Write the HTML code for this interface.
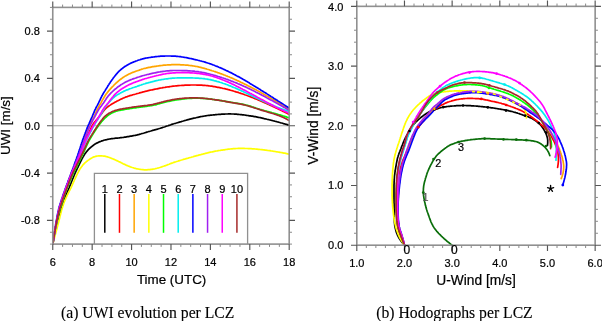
<!DOCTYPE html>
<html><head><meta charset="utf-8"><style>
html,body{margin:0;padding:0;background:#fff;}
body{width:602px;height:321px;overflow:hidden;position:relative;font-family:"Liberation Sans",sans-serif;}
svg text{font-family:"Liberation Sans",sans-serif;fill:#000;stroke:#000;stroke-width:0.22px;}
</style></head><body>
<svg width="602" height="321" viewBox="0 0 602 321" style="position:absolute;left:0;top:0;will-change:transform">
<line x1="52.76" y1="125.75" x2="289.20" y2="125.75" stroke="#a0a0a0" stroke-width="1.2"/>
<g fill="none" stroke-width="1.7" stroke-linejoin="round" stroke-linecap="round">
<path d="M52.8,244.0 L53.0,243.0 L53.2,242.0 L53.3,241.0 L53.5,240.1 L53.7,239.1 L53.9,238.1 L54.1,237.1 L54.3,236.1 L54.4,235.2 L54.6,234.2 L54.8,233.2 L55.0,232.2 L55.2,231.2 L55.4,230.2 L55.6,229.3 L55.8,228.3 L56.0,227.3 L56.2,226.3 L56.5,225.4 L56.7,224.4 L56.9,223.4 L57.2,222.4 L57.4,221.5 L57.7,220.5 L58.0,219.6 L58.2,218.6 L58.5,217.6 L58.8,216.7 L59.1,215.7 L59.4,214.8 L59.7,213.8 L60.0,212.9 L60.3,211.9 L60.6,210.9 L60.9,210.0 L61.2,209.0 L61.5,208.1 L61.8,207.1 L62.1,206.2 L62.4,205.2 L62.8,204.3 L63.1,203.3 L63.4,202.4 L63.7,201.5 L64.1,200.5 L64.4,199.6 L64.7,198.6 L65.1,197.7 L65.4,196.8 L65.8,195.8 L66.2,194.9 L66.5,194.0 L66.9,193.0 L67.3,192.1 L67.7,191.2 L68.1,190.3 L68.5,189.4 L68.9,188.4 L69.3,187.5 L69.6,186.6 L70.0,185.7 L70.4,184.7 L70.8,183.8 L71.1,182.9 L71.5,182.0 L71.9,181.0 L72.2,180.1 L72.6,179.2 L73.0,178.2 L73.4,177.3 L73.7,176.4 L74.1,175.5 L74.5,174.5 L74.9,173.6 L75.3,172.7 L75.7,171.8 L76.1,170.9 L76.6,170.0 L77.0,169.1 L77.4,168.2 L77.9,167.3 L78.3,166.4 L78.7,165.5 L79.2,164.6 L79.6,163.7 L80.0,162.8 L80.5,161.9 L80.9,161.0 L81.4,160.1 L81.8,159.2 L82.3,158.3 L82.8,157.4 L83.3,156.6 L83.8,155.7 L84.3,154.9 L84.8,154.0 L85.4,153.2 L86.0,152.4 L86.6,151.6 L87.3,150.9 L87.9,150.1 L88.6,149.4 L89.3,148.7 L90.0,148.0 L90.8,147.3 L91.5,146.7 L92.3,146.1 L93.1,145.5 L93.9,144.9 L94.7,144.3 L95.6,143.8 L96.4,143.3 L97.3,142.9 L98.2,142.4 L99.1,142.0 L100.1,141.6 L101.0,141.3 L101.9,140.9 L102.9,140.6 L103.8,140.3 L104.8,140.0 L105.7,139.8 L106.7,139.6 L107.7,139.3 L108.7,139.2 L109.7,139.0 L110.6,138.8 L111.6,138.7 L112.6,138.6 L113.6,138.5 L114.6,138.3 L115.6,138.2 L116.6,138.1 L117.6,138.1 L118.6,138.0 L119.6,137.8 L120.6,137.7 L121.6,137.6 L122.6,137.5 L123.6,137.4 L124.5,137.2 L125.5,137.1 L126.5,136.9 L127.5,136.7 L128.5,136.6 L129.5,136.4 L130.5,136.2 L131.4,136.1 L132.4,135.9 L133.4,135.7 L134.4,135.5 L135.4,135.3 L136.3,135.1 L137.3,134.9 L138.3,134.6 L139.3,134.4 L140.2,134.1 L141.2,133.8 L142.1,133.5 L143.1,133.3 L144.1,133.0 L145.0,132.7 L146.0,132.4 L146.9,132.1 L147.9,131.8 L148.8,131.5 L149.8,131.3 L150.8,131.0 L151.7,130.7 L152.7,130.4 L153.7,130.2 L154.6,129.9 L155.6,129.6 L156.5,129.4 L157.5,129.1 L158.5,128.8 L159.4,128.5 L160.4,128.2 L161.3,127.9 L162.3,127.6 L163.2,127.3 L164.2,127.0 L165.1,126.7 L166.1,126.3 L167.0,126.0 L168.0,125.7 L168.9,125.4 L169.9,125.1 L170.8,124.8 L171.8,124.4 L172.7,124.1 L173.7,123.8 L174.6,123.5 L175.6,123.3 L176.5,123.0 L177.5,122.7 L178.5,122.4 L179.4,122.1 L180.4,121.8 L181.3,121.6 L182.3,121.3 L183.3,121.0 L184.2,120.7 L185.2,120.5 L186.1,120.2 L187.1,119.9 L188.1,119.7 L189.0,119.4 L190.0,119.1 L191.0,118.9 L191.9,118.7 L192.9,118.4 L193.9,118.2 L194.9,118.0 L195.8,117.8 L196.8,117.5 L197.8,117.3 L198.8,117.1 L199.7,116.9 L200.7,116.7 L201.7,116.5 L202.7,116.3 L203.7,116.2 L204.7,116.0 L205.6,115.8 L206.6,115.7 L207.6,115.5 L208.6,115.4 L209.6,115.3 L210.6,115.2 L211.6,115.1 L212.6,115.0 L213.6,114.9 L214.6,114.8 L215.6,114.7 L216.6,114.6 L217.6,114.5 L218.6,114.4 L219.6,114.4 L220.6,114.3 L221.6,114.2 L222.6,114.2 L223.6,114.1 L224.6,114.1 L225.6,114.0 L226.6,114.0 L227.5,114.0 L228.5,113.9 L229.5,113.9 L230.5,113.9 L231.5,114.0 L232.5,114.0 L233.5,114.0 L234.5,114.1 L235.5,114.1 L236.5,114.2 L237.5,114.3 L238.5,114.4 L239.5,114.5 L240.5,114.6 L241.5,114.7 L242.5,114.8 L243.5,114.9 L244.5,115.0 L245.5,115.2 L246.5,115.3 L247.5,115.5 L248.5,115.6 L249.4,115.8 L250.4,115.9 L251.4,116.1 L252.4,116.2 L253.4,116.4 L254.4,116.6 L255.4,116.7 L256.3,116.9 L257.3,117.1 L258.3,117.3 L259.3,117.5 L260.3,117.7 L261.2,117.9 L262.2,118.1 L263.2,118.3 L264.2,118.6 L265.1,118.8 L266.1,119.0 L267.1,119.3 L268.1,119.5 L269.0,119.7 L270.0,120.0 L271.0,120.2 L271.9,120.5 L272.9,120.7 L273.9,121.0 L274.8,121.2 L275.8,121.5 L276.8,121.7 L277.7,122.0 L278.7,122.2 L279.7,122.5 L280.6,122.8 L281.6,123.0 L282.6,123.3 L283.5,123.6 L284.5,123.8 L285.4,124.1 L286.3,124.3 L287.2,124.6 L288.1,124.9 L289.0,125.1" stroke="#000000"/>
<path d="M52.8,244.0 L53.0,243.0 L53.1,242.0 L53.3,241.0 L53.4,240.1 L53.6,239.1 L53.8,238.1 L53.9,237.1 L54.1,236.1 L54.2,235.1 L54.4,234.1 L54.6,233.1 L54.7,232.2 L54.9,231.2 L55.1,230.2 L55.2,229.2 L55.4,228.2 L55.6,227.2 L55.8,226.2 L56.0,225.3 L56.1,224.3 L56.3,223.3 L56.5,222.3 L56.7,221.3 L56.9,220.4 L57.1,219.4 L57.3,218.4 L57.5,217.4 L57.7,216.4 L57.9,215.5 L58.1,214.5 L58.3,213.5 L58.5,212.5 L58.8,211.5 L59.0,210.6 L59.2,209.6 L59.5,208.6 L59.8,207.7 L60.0,206.7 L60.3,205.8 L60.6,204.8 L60.9,203.8 L61.2,202.9 L61.5,201.9 L61.8,201.0 L62.1,200.0 L62.5,199.1 L62.8,198.2 L63.1,197.2 L63.5,196.3 L63.8,195.3 L64.2,194.4 L64.5,193.5 L64.8,192.5 L65.2,191.6 L65.5,190.6 L65.9,189.7 L66.2,188.8 L66.6,187.8 L66.9,186.9 L67.3,185.9 L67.6,185.0 L68.0,184.1 L68.3,183.1 L68.7,182.2 L69.0,181.3 L69.4,180.3 L69.7,179.4 L70.1,178.5 L70.4,177.5 L70.8,176.6 L71.2,175.7 L71.6,174.8 L72.0,173.8 L72.4,172.9 L72.8,172.0 L73.2,171.1 L73.6,170.2 L74.1,169.3 L74.5,168.4 L75.0,167.5 L75.4,166.6 L75.8,165.7 L76.3,164.8 L76.7,163.9 L77.2,163.0 L77.6,162.1 L78.0,161.2 L78.4,160.3 L78.8,159.4 L79.2,158.5 L79.6,157.5 L80.0,156.6 L80.3,155.7 L80.7,154.7 L81.0,153.8 L81.3,152.9 L81.7,151.9 L82.0,151.0 L82.3,150.0 L82.6,149.1 L82.9,148.1 L83.2,147.2 L83.5,146.2 L83.9,145.3 L84.2,144.3 L84.5,143.4 L84.8,142.4 L85.2,141.5 L85.5,140.6 L85.9,139.6 L86.3,138.7 L86.6,137.8 L87.0,136.8 L87.4,135.9 L87.8,135.0 L88.2,134.1 L88.6,133.2 L89.1,132.3 L89.5,131.4 L89.9,130.5 L90.3,129.6 L90.7,128.6 L91.2,127.7 L91.6,126.9 L92.1,126.0 L92.6,125.1 L93.1,124.3 L93.6,123.4 L94.2,122.6 L94.8,121.9 L95.5,121.1 L96.1,120.3 L96.7,119.6 L97.4,118.8 L98.0,118.0 L98.7,117.3 L99.3,116.5 L100.0,115.7 L100.6,114.9 L101.2,114.2 L101.8,113.4 L102.4,112.6 L103.0,111.8 L103.6,111.0 L104.2,110.2 L104.9,109.5 L105.6,108.7 L106.3,108.0 L107.0,107.4 L107.8,106.8 L108.6,106.2 L109.4,105.6 L110.2,105.1 L111.1,104.5 L111.9,104.0 L112.8,103.5 L113.7,103.0 L114.5,102.5 L115.4,102.0 L116.3,101.6 L117.2,101.1 L118.0,100.6 L118.9,100.2 L119.8,99.7 L120.7,99.3 L121.6,98.9 L122.5,98.4 L123.5,98.0 L124.4,97.6 L125.3,97.3 L126.2,96.9 L127.2,96.6 L128.1,96.2 L129.1,95.9 L130.0,95.6 L131.0,95.3 L131.9,95.1 L132.9,94.8 L133.9,94.5 L134.8,94.3 L135.8,94.0 L136.7,93.7 L137.7,93.5 L138.7,93.2 L139.6,92.9 L140.6,92.6 L141.6,92.4 L142.5,92.1 L143.5,91.8 L144.4,91.6 L145.4,91.3 L146.4,91.1 L147.4,90.9 L148.3,90.6 L149.3,90.4 L150.3,90.2 L151.3,90.0 L152.2,89.8 L153.2,89.6 L154.2,89.4 L155.2,89.2 L156.2,89.0 L157.1,88.8 L158.1,88.6 L159.1,88.4 L160.1,88.2 L161.1,88.0 L162.0,87.9 L163.0,87.7 L164.0,87.5 L165.0,87.4 L166.0,87.2 L167.0,87.0 L168.0,86.9 L169.0,86.8 L169.9,86.6 L170.9,86.5 L171.9,86.3 L172.9,86.2 L173.9,86.1 L174.9,86.0 L175.9,85.9 L176.9,85.8 L177.9,85.7 L178.9,85.6 L179.9,85.5 L180.9,85.5 L181.9,85.4 L182.9,85.3 L183.9,85.3 L184.9,85.2 L185.9,85.2 L186.9,85.2 L187.9,85.1 L188.9,85.1 L189.9,85.1 L190.9,85.0 L191.9,85.0 L192.9,85.0 L193.9,85.0 L194.9,85.0 L195.9,85.0 L196.9,85.1 L197.9,85.1 L198.9,85.1 L199.9,85.2 L200.9,85.2 L201.9,85.2 L202.9,85.3 L203.9,85.4 L204.9,85.4 L205.9,85.5 L206.8,85.6 L207.8,85.7 L208.8,85.8 L209.8,86.0 L210.8,86.1 L211.8,86.2 L212.8,86.4 L213.8,86.6 L214.8,86.7 L215.8,86.9 L216.7,87.1 L217.7,87.3 L218.7,87.4 L219.7,87.6 L220.7,87.8 L221.6,88.0 L222.6,88.3 L223.6,88.5 L224.6,88.7 L225.5,88.9 L226.5,89.2 L227.5,89.4 L228.4,89.7 L229.4,89.9 L230.4,90.2 L231.3,90.5 L232.3,90.7 L233.3,91.0 L234.2,91.3 L235.2,91.6 L236.1,91.9 L237.1,92.2 L238.1,92.4 L239.0,92.8 L240.0,93.1 L240.9,93.4 L241.9,93.7 L242.8,94.0 L243.7,94.3 L244.7,94.7 L245.6,95.0 L246.6,95.3 L247.5,95.7 L248.5,96.0 L249.4,96.4 L250.3,96.7 L251.3,97.1 L252.2,97.5 L253.1,97.8 L254.0,98.2 L255.0,98.6 L255.9,98.9 L256.8,99.3 L257.7,99.7 L258.7,100.1 L259.6,100.5 L260.5,100.9 L261.4,101.3 L262.3,101.7 L263.3,102.1 L264.2,102.5 L265.1,102.9 L266.0,103.3 L266.9,103.7 L267.8,104.1 L268.7,104.5 L269.6,104.9 L270.6,105.4 L271.5,105.8 L272.4,106.2 L273.3,106.6 L274.2,107.0 L275.1,107.5 L276.0,107.9 L276.9,108.3 L277.8,108.8 L278.7,109.2 L279.6,109.6 L280.5,110.1 L281.4,110.5 L282.3,110.9 L283.2,111.4 L284.1,111.8 L284.9,112.3 L285.8,112.7 L286.6,113.1 L287.4,113.5 L288.2,113.9 L289.0,114.3" stroke="#ff0000"/>
<path d="M52.8,244.0 L53.0,243.0 L53.1,242.0 L53.3,241.0 L53.4,240.0 L53.5,239.1 L53.7,238.1 L53.9,237.1 L54.0,236.1 L54.2,235.1 L54.3,234.1 L54.5,233.1 L54.6,232.1 L54.8,231.2 L54.9,230.2 L55.1,229.2 L55.3,228.2 L55.4,227.2 L55.6,226.2 L55.8,225.2 L55.9,224.2 L56.1,223.3 L56.3,222.3 L56.5,221.3 L56.6,220.3 L56.8,219.3 L57.0,218.3 L57.2,217.4 L57.4,216.4 L57.6,215.4 L57.8,214.4 L58.0,213.4 L58.2,212.5 L58.4,211.5 L58.6,210.5 L58.9,209.5 L59.1,208.6 L59.4,207.6 L59.6,206.6 L59.9,205.7 L60.2,204.7 L60.5,203.8 L60.8,202.8 L61.1,201.9 L61.4,200.9 L61.7,199.9 L62.0,199.0 L62.3,198.1 L62.6,197.1 L63.0,196.2 L63.3,195.2 L63.6,194.3 L63.9,193.3 L64.3,192.4 L64.6,191.4 L64.9,190.5 L65.3,189.6 L65.6,188.6 L65.9,187.7 L66.3,186.7 L66.6,185.8 L67.0,184.8 L67.3,183.9 L67.7,183.0 L68.0,182.0 L68.4,181.1 L68.7,180.2 L69.1,179.2 L69.4,178.3 L69.8,177.4 L70.2,176.4 L70.5,175.5 L70.9,174.6 L71.2,173.6 L71.6,172.7 L72.0,171.8 L72.3,170.8 L72.7,169.9 L73.0,169.0 L73.4,168.0 L73.8,167.1 L74.1,166.2 L74.5,165.2 L74.8,164.3 L75.2,163.4 L75.5,162.4 L75.9,161.5 L76.2,160.6 L76.6,159.6 L76.9,158.7 L77.3,157.7 L77.6,156.8 L78.0,155.9 L78.3,154.9 L78.6,154.0 L78.9,153.0 L79.3,152.1 L79.6,151.1 L79.9,150.2 L80.3,149.3 L80.6,148.3 L80.9,147.4 L81.2,146.4 L81.6,145.5 L81.9,144.5 L82.2,143.6 L82.5,142.6 L82.9,141.7 L83.2,140.8 L83.5,139.8 L83.9,138.9 L84.2,137.9 L84.6,137.0 L84.9,136.1 L85.3,135.1 L85.6,134.2 L86.0,133.3 L86.4,132.3 L86.7,131.4 L87.1,130.5 L87.5,129.5 L87.9,128.6 L88.3,127.7 L88.7,126.8 L89.1,125.9 L89.5,125.0 L90.0,124.1 L90.4,123.2 L90.9,122.3 L91.4,121.4 L91.9,120.6 L92.4,119.7 L92.9,118.8 L93.3,118.0 L93.8,117.1 L94.3,116.2 L94.7,115.3 L95.1,114.4 L95.5,113.5 L95.9,112.5 L96.3,111.6 L96.7,110.7 L97.1,109.8 L97.5,108.9 L98.0,108.0 L98.4,107.2 L98.9,106.3 L99.4,105.4 L100.0,104.6 L100.5,103.7 L101.0,102.9 L101.5,102.0 L101.9,101.1 L102.4,100.2 L102.9,99.4 L103.4,98.5 L103.9,97.6 L104.4,96.8 L104.9,95.9 L105.5,95.1 L106.0,94.3 L106.6,93.5 L107.2,92.7 L107.9,91.9 L108.5,91.1 L109.1,90.4 L109.8,89.6 L110.4,88.9 L111.1,88.1 L111.8,87.4 L112.5,86.7 L113.2,86.0 L113.9,85.2 L114.6,84.5 L115.3,83.8 L116.0,83.2 L116.8,82.5 L117.5,81.8 L118.3,81.2 L119.0,80.5 L119.8,79.9 L120.6,79.3 L121.4,78.7 L122.2,78.1 L123.0,77.5 L123.8,77.0 L124.7,76.4 L125.5,75.9 L126.4,75.4 L127.3,74.9 L128.2,74.4 L129.0,74.0 L130.0,73.6 L130.9,73.2 L131.8,72.8 L132.7,72.4 L133.6,72.1 L134.6,71.7 L135.5,71.4 L136.5,71.0 L137.4,70.7 L138.4,70.4 L139.3,70.1 L140.2,69.7 L141.2,69.4 L142.1,69.1 L143.1,68.8 L144.0,68.5 L145.0,68.3 L146.0,68.1 L146.9,67.8 L147.9,67.6 L148.9,67.4 L149.9,67.3 L150.9,67.1 L151.8,66.9 L152.8,66.7 L153.8,66.6 L154.8,66.4 L155.8,66.3 L156.8,66.1 L157.8,66.0 L158.8,65.8 L159.8,65.7 L160.7,65.6 L161.7,65.5 L162.7,65.3 L163.7,65.2 L164.7,65.2 L165.7,65.1 L166.7,65.0 L167.7,64.9 L168.7,64.9 L169.7,64.8 L170.7,64.8 L171.7,64.7 L172.7,64.7 L173.7,64.7 L174.7,64.6 L175.7,64.6 L176.7,64.6 L177.7,64.7 L178.7,64.7 L179.7,64.7 L180.7,64.8 L181.7,64.8 L182.7,64.9 L183.7,64.9 L184.7,65.0 L185.7,65.1 L186.7,65.2 L187.7,65.2 L188.7,65.3 L189.7,65.5 L190.7,65.6 L191.7,65.7 L192.6,65.8 L193.6,66.0 L194.6,66.2 L195.6,66.3 L196.6,66.5 L197.6,66.7 L198.5,66.9 L199.5,67.2 L200.5,67.4 L201.5,67.6 L202.4,67.9 L203.4,68.1 L204.4,68.4 L205.3,68.7 L206.3,68.9 L207.2,69.2 L208.2,69.5 L209.2,69.8 L210.1,70.1 L211.1,70.4 L212.0,70.7 L213.0,71.0 L213.9,71.3 L214.9,71.6 L215.8,71.9 L216.8,72.2 L217.7,72.6 L218.7,72.9 L219.6,73.2 L220.5,73.6 L221.5,73.9 L222.4,74.3 L223.3,74.6 L224.3,75.0 L225.2,75.3 L226.1,75.7 L227.1,76.1 L228.0,76.5 L228.9,76.8 L229.8,77.2 L230.8,77.6 L231.7,78.0 L232.6,78.4 L233.5,78.8 L234.4,79.2 L235.3,79.6 L236.3,80.0 L237.2,80.5 L238.1,80.9 L239.0,81.3 L239.9,81.7 L240.8,82.2 L241.7,82.6 L242.6,83.0 L243.5,83.5 L244.4,83.9 L245.3,84.4 L246.2,84.8 L247.1,85.2 L248.0,85.7 L248.9,86.1 L249.7,86.6 L250.6,87.0 L251.5,87.5 L252.4,88.0 L253.3,88.4 L254.2,88.9 L255.1,89.4 L256.0,89.8 L256.8,90.3 L257.7,90.8 L258.6,91.2 L259.5,91.7 L260.4,92.2 L261.2,92.7 L262.1,93.2 L263.0,93.7 L263.8,94.2 L264.7,94.7 L265.6,95.2 L266.4,95.7 L267.3,96.1 L268.2,96.6 L269.0,97.2 L269.9,97.7 L270.8,98.2 L271.6,98.7 L272.5,99.2 L273.4,99.7 L274.2,100.2 L275.1,100.7 L275.9,101.2 L276.8,101.7 L277.6,102.3 L278.5,102.8 L279.3,103.3 L280.2,103.8 L281.0,104.4 L281.9,104.9 L282.7,105.4 L283.6,106.0 L284.4,106.5 L285.3,107.0 L286.1,107.6 L286.9,108.1 L287.8,108.6 L288.6,109.1 L289.0,109.4" stroke="#ffa500"/>
<path d="M52.8,244.0 L53.1,243.0 L53.3,242.1 L53.6,241.1 L53.8,240.1 L54.1,239.2 L54.4,238.2 L54.6,237.2 L54.9,236.3 L55.1,235.3 L55.4,234.3 L55.7,233.4 L55.9,232.4 L56.2,231.4 L56.4,230.5 L56.7,229.5 L57.0,228.5 L57.2,227.6 L57.5,226.6 L57.7,225.6 L58.0,224.7 L58.2,223.7 L58.5,222.7 L58.7,221.8 L59.0,220.8 L59.2,219.8 L59.4,218.9 L59.7,217.9 L59.9,216.9 L60.1,215.9 L60.4,215.0 L60.6,214.0 L60.9,213.0 L61.1,212.1 L61.4,211.1 L61.6,210.1 L61.9,209.2 L62.2,208.2 L62.5,207.3 L62.8,206.3 L63.1,205.4 L63.4,204.4 L63.7,203.5 L64.1,202.5 L64.4,201.6 L64.8,200.7 L65.2,199.7 L65.6,198.8 L66.0,197.9 L66.4,197.0 L66.8,196.1 L67.2,195.2 L67.7,194.3 L68.1,193.4 L68.6,192.5 L69.0,191.6 L69.5,190.7 L70.0,189.8 L70.4,188.9 L70.9,188.1 L71.3,187.2 L71.7,186.2 L72.1,185.3 L72.5,184.4 L72.9,183.5 L73.3,182.6 L73.7,181.7 L74.1,180.8 L74.5,179.8 L75.0,178.9 L75.4,178.0 L75.8,177.1 L76.2,176.2 L76.6,175.3 L77.1,174.4 L77.5,173.5 L78.0,172.6 L78.5,171.7 L78.9,170.9 L79.4,170.0 L79.9,169.1 L80.5,168.3 L81.0,167.5 L81.6,166.7 L82.2,165.9 L82.8,165.1 L83.5,164.3 L84.2,163.6 L84.9,162.9 L85.6,162.3 L86.4,161.6 L87.2,161.0 L88.0,160.4 L88.8,159.9 L89.6,159.3 L90.4,158.8 L91.3,158.2 L92.1,157.8 L93.0,157.3 L93.9,156.9 L94.9,156.6 L95.8,156.3 L96.8,156.1 L97.7,156.0 L98.7,155.9 L99.7,155.8 L100.7,155.8 L101.7,155.9 L102.7,156.0 L103.7,156.1 L104.6,156.2 L105.6,156.4 L106.6,156.7 L107.5,156.9 L108.5,157.2 L109.4,157.5 L110.4,157.9 L111.3,158.2 L112.2,158.6 L113.2,159.0 L114.1,159.4 L115.0,159.8 L115.9,160.2 L116.8,160.6 L117.7,161.0 L118.6,161.5 L119.5,161.9 L120.4,162.3 L121.3,162.8 L122.2,163.2 L123.1,163.7 L124.0,164.1 L124.9,164.5 L125.8,164.9 L126.7,165.4 L127.6,165.8 L128.6,166.1 L129.5,166.5 L130.4,166.9 L131.4,167.2 L132.3,167.5 L133.3,167.8 L134.2,168.1 L135.2,168.3 L136.2,168.6 L137.1,168.8 L138.1,169.0 L139.1,169.2 L140.1,169.3 L141.1,169.5 L142.1,169.6 L143.1,169.7 L144.1,169.8 L145.0,169.8 L146.0,169.8 L147.0,169.8 L148.0,169.7 L149.0,169.6 L150.0,169.6 L151.0,169.4 L152.0,169.3 L153.0,169.1 L154.0,169.0 L155.0,168.8 L155.9,168.5 L156.9,168.3 L157.9,168.0 L158.8,167.8 L159.8,167.5 L160.7,167.2 L161.7,166.9 L162.6,166.5 L163.6,166.2 L164.5,165.9 L165.5,165.6 L166.4,165.2 L167.3,164.9 L168.3,164.5 L169.2,164.2 L170.1,163.8 L171.1,163.4 L172.0,163.1 L172.9,162.8 L173.9,162.4 L174.8,162.1 L175.8,161.8 L176.7,161.5 L177.7,161.2 L178.6,160.9 L179.6,160.6 L180.6,160.3 L181.5,160.0 L182.5,159.7 L183.4,159.4 L184.4,159.2 L185.4,158.9 L186.3,158.6 L187.3,158.3 L188.2,158.1 L189.2,157.8 L190.2,157.5 L191.1,157.3 L192.1,157.0 L193.1,156.7 L194.0,156.4 L195.0,156.2 L195.9,155.9 L196.9,155.6 L197.9,155.4 L198.8,155.1 L199.8,154.8 L200.8,154.6 L201.7,154.3 L202.7,154.1 L203.7,153.8 L204.6,153.6 L205.6,153.3 L206.6,153.1 L207.5,152.9 L208.5,152.6 L209.5,152.4 L210.5,152.2 L211.5,152.0 L212.4,151.8 L213.4,151.6 L214.4,151.4 L215.4,151.2 L216.4,151.0 L217.3,150.9 L218.3,150.7 L219.3,150.5 L220.3,150.4 L221.3,150.2 L222.3,150.1 L223.3,149.9 L224.3,149.8 L225.2,149.6 L226.2,149.5 L227.2,149.3 L228.2,149.2 L229.2,149.1 L230.2,149.0 L231.2,148.9 L232.2,148.8 L233.2,148.7 L234.2,148.6 L235.2,148.6 L236.2,148.5 L237.2,148.5 L238.2,148.4 L239.2,148.4 L240.2,148.4 L241.2,148.4 L242.2,148.4 L243.2,148.4 L244.2,148.4 L245.2,148.5 L246.2,148.5 L247.2,148.5 L248.2,148.6 L249.2,148.6 L250.2,148.7 L251.2,148.7 L252.2,148.8 L253.2,148.8 L254.2,148.9 L255.2,149.0 L256.2,149.1 L257.1,149.2 L258.1,149.3 L259.1,149.4 L260.1,149.5 L261.1,149.6 L262.1,149.7 L263.1,149.8 L264.1,149.9 L265.1,150.1 L266.1,150.2 L267.1,150.3 L268.1,150.5 L269.1,150.6 L270.1,150.7 L271.0,150.9 L272.0,151.0 L273.0,151.2 L274.0,151.3 L275.0,151.5 L276.0,151.7 L277.0,151.8 L278.0,152.0 L278.9,152.1 L279.9,152.3 L280.9,152.5 L281.9,152.7 L282.9,152.9 L283.8,153.1 L284.8,153.2 L285.8,153.4 L286.7,153.6 L287.6,153.8 L288.5,154.0 L289.0,154.1" stroke="#ffff00"/>
<path d="M52.8,244.0 L53.0,243.0 L53.1,242.0 L53.3,241.0 L53.5,240.1 L53.6,239.1 L53.8,238.1 L54.0,237.1 L54.2,236.1 L54.3,235.1 L54.5,234.1 L54.7,233.2 L54.9,232.2 L55.0,231.2 L55.2,230.2 L55.4,229.2 L55.6,228.2 L55.8,227.3 L56.0,226.3 L56.2,225.3 L56.4,224.3 L56.5,223.3 L56.8,222.4 L57.0,221.4 L57.2,220.4 L57.4,219.4 L57.6,218.4 L57.8,217.5 L58.0,216.5 L58.3,215.5 L58.5,214.6 L58.7,213.6 L59.0,212.6 L59.2,211.6 L59.5,210.7 L59.7,209.7 L60.0,208.8 L60.3,207.8 L60.6,206.8 L60.9,205.9 L61.2,204.9 L61.5,204.0 L61.8,203.0 L62.1,202.1 L62.4,201.1 L62.7,200.2 L63.1,199.2 L63.4,198.3 L63.7,197.3 L64.1,196.4 L64.4,195.5 L64.8,194.5 L65.1,193.6 L65.4,192.6 L65.8,191.7 L66.1,190.8 L66.5,189.8 L66.9,188.9 L67.2,188.0 L67.6,187.0 L67.9,186.1 L68.3,185.2 L68.7,184.2 L69.1,183.3 L69.4,182.4 L69.8,181.5 L70.2,180.5 L70.6,179.6 L71.0,178.7 L71.4,177.8 L71.8,176.9 L72.2,176.0 L72.6,175.0 L73.0,174.1 L73.4,173.2 L73.8,172.3 L74.3,171.4 L74.7,170.5 L75.1,169.6 L75.6,168.7 L76.0,167.8 L76.5,166.9 L76.9,166.0 L77.4,165.1 L77.8,164.3 L78.3,163.4 L78.7,162.5 L79.2,161.6 L79.6,160.7 L80.1,159.8 L80.5,158.9 L81.0,158.0 L81.4,157.1 L81.8,156.2 L82.3,155.3 L82.7,154.4 L83.1,153.5 L83.6,152.6 L84.0,151.7 L84.4,150.8 L84.8,149.9 L85.2,148.9 L85.6,148.0 L86.0,147.1 L86.4,146.2 L86.8,145.3 L87.2,144.4 L87.7,143.5 L88.1,142.6 L88.5,141.7 L89.0,140.8 L89.5,139.9 L90.0,139.0 L90.5,138.2 L91.0,137.3 L91.5,136.5 L92.0,135.6 L92.6,134.8 L93.1,133.9 L93.6,133.1 L94.2,132.2 L94.7,131.4 L95.2,130.5 L95.8,129.7 L96.3,128.9 L96.9,128.0 L97.4,127.2 L98.0,126.4 L98.6,125.6 L99.2,124.8 L99.8,124.0 L100.4,123.2 L101.0,122.4 L101.6,121.6 L102.3,120.9 L103.0,120.1 L103.7,119.4 L104.4,118.7 L105.1,118.0 L105.8,117.3 L106.6,116.7 L107.3,116.0 L108.1,115.4 L108.9,114.8 L109.7,114.3 L110.6,113.7 L111.4,113.3 L112.3,112.8 L113.2,112.4 L114.1,112.0 L115.1,111.6 L116.0,111.3 L116.9,111.0 L117.9,110.8 L118.9,110.5 L119.9,110.3 L120.8,110.1 L121.8,109.9 L122.8,109.8 L123.8,109.6 L124.8,109.4 L125.8,109.2 L126.7,109.1 L127.7,108.9 L128.7,108.8 L129.7,108.6 L130.7,108.5 L131.7,108.3 L132.7,108.2 L133.7,108.0 L134.7,107.9 L135.6,107.8 L136.6,107.6 L137.6,107.5 L138.6,107.4 L139.6,107.2 L140.6,107.1 L141.6,107.0 L142.6,106.8 L143.6,106.7 L144.6,106.6 L145.6,106.4 L146.5,106.3 L147.5,106.2 L148.5,106.0 L149.5,105.9 L150.5,105.7 L151.5,105.6 L152.5,105.4 L153.5,105.2 L154.4,105.0 L155.4,104.8 L156.4,104.6 L157.3,104.3 L158.3,104.0 L159.3,103.8 L160.2,103.5 L161.2,103.2 L162.2,103.0 L163.1,102.7 L164.1,102.5 L165.1,102.2 L166.0,102.0 L167.0,101.7 L168.0,101.5 L168.9,101.3 L169.9,101.1 L170.9,100.9 L171.9,100.7 L172.9,100.5 L173.8,100.3 L174.8,100.1 L175.8,100.0 L176.8,99.8 L177.8,99.7 L178.8,99.6 L179.8,99.4 L180.8,99.3 L181.8,99.2 L182.8,99.0 L183.7,98.9 L184.7,98.8 L185.7,98.7 L186.7,98.6 L187.7,98.5 L188.7,98.5 L189.7,98.4 L190.7,98.3 L191.7,98.3 L192.7,98.2 L193.7,98.2 L194.7,98.2 L195.7,98.2 L196.7,98.2 L197.7,98.2 L198.7,98.2 L199.7,98.2 L200.7,98.3 L201.7,98.3 L202.7,98.4 L203.7,98.4 L204.7,98.5 L205.7,98.6 L206.7,98.7 L207.7,98.8 L208.7,98.9 L209.7,99.0 L210.7,99.1 L211.7,99.2 L212.6,99.4 L213.6,99.5 L214.6,99.7 L215.6,99.8 L216.6,99.9 L217.6,100.1 L218.6,100.2 L219.6,100.4 L220.6,100.6 L221.6,100.7 L222.5,100.9 L223.5,101.0 L224.5,101.2 L225.5,101.4 L226.5,101.6 L227.5,101.7 L228.4,101.9 L229.4,102.1 L230.4,102.2 L231.4,102.4 L232.4,102.5 L233.4,102.7 L234.4,102.8 L235.4,103.0 L236.3,103.1 L237.3,103.3 L238.3,103.5 L239.3,103.6 L240.3,103.8 L241.3,104.0 L242.3,104.2 L243.2,104.4 L244.2,104.6 L245.2,104.8 L246.2,105.1 L247.1,105.3 L248.1,105.6 L249.0,105.9 L250.0,106.1 L251.0,106.4 L251.9,106.7 L252.9,107.0 L253.8,107.3 L254.8,107.6 L255.7,108.0 L256.7,108.3 L257.6,108.6 L258.6,108.9 L259.5,109.2 L260.5,109.5 L261.4,109.7 L262.4,110.0 L263.4,110.3 L264.3,110.6 L265.3,110.9 L266.3,111.1 L267.2,111.4 L268.2,111.7 L269.1,111.9 L270.1,112.2 L271.1,112.4 L272.0,112.7 L273.0,113.0 L274.0,113.2 L274.9,113.5 L275.9,113.7 L276.9,114.0 L277.8,114.3 L278.8,114.6 L279.8,114.8 L280.7,115.1 L281.7,115.4 L282.6,115.7 L283.6,116.0 L284.5,116.3 L285.4,116.6 L286.3,116.9 L287.2,117.2 L288.1,117.5 L289.0,117.8" stroke="#00ff00"/>
<path d="M52.8,244.0 L53.0,243.0 L53.1,242.0 L53.3,241.0 L53.4,240.1 L53.6,239.1 L53.8,238.1 L53.9,237.1 L54.1,236.1 L54.3,235.1 L54.4,234.1 L54.6,233.1 L54.7,232.2 L54.9,231.2 L55.1,230.2 L55.3,229.2 L55.4,228.2 L55.6,227.2 L55.8,226.2 L56.0,225.3 L56.1,224.3 L56.3,223.3 L56.5,222.3 L56.7,221.3 L56.9,220.3 L57.1,219.4 L57.2,218.4 L57.4,217.4 L57.6,216.4 L57.8,215.4 L58.0,214.5 L58.2,213.5 L58.5,212.5 L58.7,211.5 L58.9,210.6 L59.2,209.6 L59.4,208.6 L59.7,207.7 L59.9,206.7 L60.2,205.7 L60.5,204.8 L60.8,203.8 L61.1,202.9 L61.4,201.9 L61.7,201.0 L62.0,200.0 L62.3,199.1 L62.7,198.1 L63.0,197.2 L63.3,196.2 L63.7,195.3 L64.0,194.4 L64.4,193.4 L64.7,192.5 L65.0,191.5 L65.4,190.6 L65.7,189.7 L66.1,188.7 L66.4,187.8 L66.7,186.8 L67.1,185.9 L67.4,185.0 L67.8,184.0 L68.1,183.1 L68.4,182.1 L68.8,181.2 L69.1,180.3 L69.5,179.3 L69.8,178.4 L70.2,177.5 L70.6,176.5 L70.9,175.6 L71.3,174.7 L71.7,173.8 L72.1,172.8 L72.5,171.9 L72.9,171.0 L73.4,170.1 L73.8,169.2 L74.2,168.3 L74.7,167.4 L75.1,166.5 L75.5,165.6 L76.0,164.7 L76.4,163.8 L76.9,162.9 L77.3,162.0 L77.7,161.1 L78.2,160.2 L78.6,159.3 L79.0,158.4 L79.4,157.5 L79.8,156.6 L80.2,155.6 L80.5,154.7 L80.9,153.8 L81.3,152.9 L81.7,151.9 L82.0,151.0 L82.4,150.1 L82.8,149.1 L83.1,148.2 L83.5,147.3 L83.9,146.3 L84.2,145.4 L84.6,144.5 L85.0,143.6 L85.4,142.6 L85.7,141.7 L86.1,140.8 L86.5,139.9 L87.0,139.0 L87.4,138.1 L87.8,137.2 L88.3,136.3 L88.7,135.4 L89.2,134.5 L89.6,133.6 L90.1,132.7 L90.6,131.8 L91.0,131.0 L91.5,130.1 L92.0,129.2 L92.4,128.3 L92.9,127.4 L93.4,126.6 L93.9,125.7 L94.4,124.8 L94.9,124.0 L95.4,123.1 L95.9,122.3 L96.5,121.4 L97.0,120.6 L97.6,119.7 L98.1,118.9 L98.6,118.0 L99.2,117.2 L99.7,116.4 L100.2,115.5 L100.7,114.6 L101.2,113.8 L101.7,112.9 L102.2,112.0 L102.7,111.2 L103.2,110.3 L103.7,109.4 L104.3,108.6 L104.8,107.8 L105.4,107.0 L106.0,106.2 L106.6,105.4 L107.2,104.6 L107.8,103.8 L108.5,103.0 L109.1,102.3 L109.8,101.5 L110.5,100.8 L111.1,100.0 L111.8,99.3 L112.5,98.6 L113.2,97.9 L114.0,97.3 L114.7,96.6 L115.5,96.0 L116.3,95.5 L117.2,94.9 L118.0,94.4 L118.9,93.9 L119.8,93.4 L120.6,92.9 L121.5,92.5 L122.4,92.0 L123.3,91.6 L124.2,91.1 L125.1,90.7 L126.0,90.3 L127.0,89.9 L127.9,89.6 L128.8,89.2 L129.7,88.8 L130.7,88.5 L131.6,88.2 L132.6,87.8 L133.5,87.5 L134.5,87.2 L135.4,86.9 L136.4,86.6 L137.3,86.3 L138.3,85.9 L139.2,85.6 L140.1,85.3 L141.1,85.0 L142.0,84.6 L143.0,84.3 L143.9,84.0 L144.9,83.7 L145.8,83.4 L146.8,83.1 L147.8,82.9 L148.7,82.6 L149.7,82.4 L150.7,82.1 L151.6,81.9 L152.6,81.6 L153.6,81.4 L154.5,81.1 L155.5,80.9 L156.5,80.7 L157.5,80.5 L158.4,80.2 L159.4,80.0 L160.4,79.9 L161.4,79.7 L162.4,79.5 L163.4,79.3 L164.3,79.2 L165.3,79.0 L166.3,78.9 L167.3,78.8 L168.3,78.6 L169.3,78.5 L170.3,78.4 L171.3,78.3 L172.3,78.2 L173.3,78.1 L174.3,78.1 L175.3,78.0 L176.3,78.0 L177.3,77.9 L178.3,77.9 L179.3,77.8 L180.3,77.8 L181.3,77.8 L182.3,77.8 L183.3,77.8 L184.3,77.8 L185.3,77.8 L186.3,77.8 L187.3,77.8 L188.3,77.8 L189.3,77.8 L190.3,77.9 L191.3,77.9 L192.3,77.9 L193.3,78.0 L194.3,78.0 L195.3,78.1 L196.3,78.1 L197.3,78.2 L198.3,78.2 L199.3,78.3 L200.3,78.4 L201.2,78.4 L202.2,78.5 L203.2,78.6 L204.2,78.7 L205.2,78.9 L206.2,79.0 L207.2,79.1 L208.2,79.3 L209.2,79.5 L210.1,79.7 L211.1,79.9 L212.1,80.1 L213.1,80.3 L214.0,80.6 L215.0,80.8 L216.0,81.1 L216.9,81.4 L217.9,81.7 L218.9,81.9 L219.8,82.2 L220.8,82.5 L221.7,82.8 L222.7,83.2 L223.6,83.5 L224.6,83.8 L225.5,84.1 L226.4,84.5 L227.4,84.8 L228.3,85.2 L229.2,85.6 L230.2,85.9 L231.1,86.3 L232.0,86.7 L232.9,87.1 L233.9,87.5 L234.8,87.8 L235.7,88.2 L236.6,88.6 L237.5,89.0 L238.4,89.4 L239.4,89.9 L240.3,90.3 L241.2,90.7 L242.1,91.1 L243.0,91.5 L243.9,91.9 L244.8,92.4 L245.7,92.8 L246.6,93.2 L247.5,93.6 L248.4,94.1 L249.3,94.5 L250.2,94.9 L251.1,95.4 L252.0,95.8 L252.9,96.2 L253.8,96.7 L254.7,97.1 L255.6,97.6 L256.5,98.0 L257.4,98.4 L258.3,98.8 L259.2,99.3 L260.1,99.7 L261.1,100.1 L262.0,100.5 L262.9,101.0 L263.8,101.4 L264.7,101.8 L265.6,102.2 L266.5,102.6 L267.4,103.0 L268.3,103.4 L269.2,103.9 L270.2,104.3 L271.1,104.6 L272.0,105.0 L272.9,105.4 L273.8,105.8 L274.8,106.2 L275.7,106.6 L276.6,107.0 L277.5,107.3 L278.5,107.7 L279.4,108.0 L280.3,108.4 L281.3,108.7 L282.2,109.1 L283.2,109.4 L284.1,109.7 L285.0,110.0 L285.9,110.3 L286.8,110.6 L287.7,110.9 L288.6,111.2 L289.0,111.3" stroke="#00eeee"/>
<path d="M52.8,244.0 L52.9,243.0 L53.1,242.0 L53.2,241.0 L53.4,240.0 L53.5,239.0 L53.6,238.1 L53.8,237.1 L53.9,236.1 L54.1,235.1 L54.2,234.1 L54.3,233.1 L54.5,232.1 L54.6,231.1 L54.8,230.1 L54.9,229.2 L55.1,228.2 L55.3,227.2 L55.4,226.2 L55.6,225.2 L55.7,224.2 L55.9,223.2 L56.1,222.2 L56.2,221.3 L56.4,220.3 L56.6,219.3 L56.8,218.3 L56.9,217.3 L57.1,216.3 L57.3,215.4 L57.5,214.4 L57.7,213.4 L57.9,212.4 L58.1,211.4 L58.4,210.5 L58.6,209.5 L58.8,208.5 L59.1,207.6 L59.4,206.6 L59.6,205.6 L59.9,204.7 L60.2,203.7 L60.5,202.8 L60.8,201.8 L61.1,200.9 L61.4,199.9 L61.7,199.0 L62.1,198.0 L62.4,197.1 L62.7,196.1 L63.1,195.2 L63.4,194.2 L63.7,193.3 L64.1,192.4 L64.4,191.4 L64.7,190.5 L65.1,189.5 L65.4,188.6 L65.7,187.7 L66.1,186.7 L66.4,185.8 L66.8,184.8 L67.1,183.9 L67.5,183.0 L67.8,182.0 L68.1,181.1 L68.5,180.1 L68.8,179.2 L69.2,178.3 L69.6,177.3 L69.9,176.4 L70.3,175.5 L70.6,174.5 L71.0,173.6 L71.3,172.6 L71.7,171.7 L72.0,170.8 L72.4,169.8 L72.7,168.9 L73.1,168.0 L73.4,167.0 L73.8,166.1 L74.1,165.2 L74.4,164.2 L74.8,163.3 L75.1,162.3 L75.5,161.4 L75.8,160.5 L76.1,159.5 L76.5,158.6 L76.8,157.6 L77.1,156.7 L77.5,155.7 L77.8,154.8 L78.1,153.8 L78.4,152.9 L78.7,151.9 L79.0,151.0 L79.3,150.0 L79.7,149.1 L80.0,148.1 L80.3,147.2 L80.6,146.2 L80.9,145.3 L81.2,144.3 L81.5,143.4 L81.8,142.4 L82.2,141.5 L82.5,140.5 L82.8,139.6 L83.1,138.7 L83.5,137.7 L83.8,136.8 L84.2,135.8 L84.5,134.9 L84.9,134.0 L85.2,133.0 L85.6,132.1 L85.9,131.2 L86.3,130.2 L86.7,129.3 L87.0,128.4 L87.4,127.4 L87.8,126.5 L88.2,125.6 L88.6,124.7 L89.0,123.8 L89.4,122.8 L89.8,121.9 L90.2,121.0 L90.6,120.1 L91.0,119.2 L91.4,118.3 L91.8,117.4 L92.2,116.5 L92.6,115.5 L93.0,114.6 L93.4,113.7 L93.8,112.8 L94.2,111.9 L94.5,110.9 L94.9,110.0 L95.4,109.1 L95.8,108.2 L96.2,107.3 L96.7,106.4 L97.2,105.6 L97.7,104.7 L98.1,103.8 L98.6,102.9 L99.0,102.0 L99.4,101.1 L99.9,100.2 L100.3,99.3 L100.7,98.4 L101.1,97.5 L101.6,96.6 L102.0,95.7 L102.5,94.9 L103.0,94.0 L103.5,93.1 L104.0,92.3 L104.6,91.4 L105.1,90.6 L105.6,89.7 L106.1,88.9 L106.7,88.0 L107.2,87.2 L107.7,86.3 L108.2,85.5 L108.8,84.6 L109.3,83.8 L109.9,83.0 L110.4,82.1 L111.0,81.3 L111.5,80.5 L112.1,79.7 L112.7,78.9 L113.3,78.0 L113.9,77.2 L114.5,76.5 L115.1,75.7 L115.8,74.9 L116.4,74.1 L117.1,73.4 L117.7,72.6 L118.4,71.9 L119.1,71.2 L119.8,70.5 L120.6,69.9 L121.3,69.2 L122.1,68.6 L122.9,68.0 L123.7,67.4 L124.5,66.8 L125.3,66.2 L126.2,65.7 L127.0,65.2 L127.9,64.7 L128.8,64.2 L129.7,63.8 L130.6,63.3 L131.5,62.9 L132.4,62.5 L133.3,62.1 L134.2,61.7 L135.2,61.4 L136.1,61.0 L137.0,60.7 L138.0,60.3 L138.9,60.0 L139.9,59.7 L140.8,59.4 L141.8,59.1 L142.7,58.8 L143.7,58.6 L144.7,58.4 L145.6,58.2 L146.6,58.0 L147.6,57.8 L148.6,57.7 L149.6,57.5 L150.6,57.4 L151.6,57.2 L152.5,57.1 L153.5,57.0 L154.5,56.8 L155.5,56.7 L156.5,56.6 L157.5,56.5 L158.5,56.4 L159.5,56.3 L160.5,56.2 L161.5,56.2 L162.5,56.1 L163.5,56.1 L164.5,56.1 L165.5,56.0 L166.5,56.0 L167.5,56.0 L168.5,56.0 L169.5,56.0 L170.5,56.0 L171.5,56.1 L172.5,56.1 L173.5,56.1 L174.5,56.2 L175.5,56.2 L176.5,56.3 L177.5,56.4 L178.5,56.5 L179.5,56.6 L180.5,56.7 L181.4,56.9 L182.4,57.0 L183.4,57.2 L184.4,57.3 L185.4,57.5 L186.4,57.7 L187.4,57.9 L188.3,58.1 L189.3,58.3 L190.3,58.5 L191.3,58.7 L192.2,58.9 L193.2,59.1 L194.2,59.4 L195.2,59.6 L196.1,59.8 L197.1,60.0 L198.1,60.3 L199.1,60.5 L200.0,60.8 L201.0,61.0 L202.0,61.3 L202.9,61.5 L203.9,61.8 L204.9,62.1 L205.8,62.4 L206.8,62.7 L207.7,63.0 L208.7,63.3 L209.6,63.6 L210.6,63.9 L211.5,64.3 L212.4,64.6 L213.4,65.0 L214.3,65.3 L215.2,65.7 L216.2,66.1 L217.1,66.4 L218.0,66.8 L218.9,67.2 L219.9,67.6 L220.8,68.0 L221.7,68.4 L222.6,68.8 L223.5,69.2 L224.4,69.6 L225.3,70.0 L226.2,70.5 L227.1,70.9 L228.0,71.3 L228.9,71.8 L229.8,72.2 L230.7,72.6 L231.6,73.1 L232.5,73.6 L233.4,74.0 L234.3,74.5 L235.2,74.9 L236.1,75.4 L236.9,75.9 L237.8,76.4 L238.7,76.8 L239.6,77.3 L240.4,77.8 L241.3,78.3 L242.2,78.8 L243.0,79.3 L243.9,79.8 L244.8,80.3 L245.6,80.8 L246.5,81.3 L247.4,81.8 L248.2,82.3 L249.1,82.8 L249.9,83.4 L250.8,83.9 L251.7,84.4 L252.5,84.9 L253.4,85.4 L254.2,86.0 L255.1,86.5 L255.9,87.0 L256.8,87.5 L257.6,88.1 L258.5,88.6 L259.3,89.1 L260.2,89.6 L261.0,90.2 L261.9,90.7 L262.7,91.2 L263.6,91.8 L264.4,92.3 L265.3,92.8 L266.1,93.3 L267.0,93.9 L267.8,94.4 L268.6,94.9 L269.5,95.5 L270.3,96.0 L271.2,96.6 L272.0,97.1 L272.9,97.6 L273.7,98.2 L274.5,98.7 L275.4,99.2 L276.2,99.8 L277.1,100.3 L277.9,100.9 L278.8,101.4 L279.6,101.9 L280.4,102.5 L281.3,103.0 L282.1,103.6 L283.0,104.1 L283.8,104.6 L284.6,105.1 L285.5,105.7 L286.3,106.2 L287.1,106.7 L287.9,107.2 L288.6,107.7 L289.0,107.9" stroke="#0000ff"/>
<path d="M52.8,244.0 L53.0,243.0 L53.1,242.0 L53.3,241.0 L53.4,240.0 L53.6,239.1 L53.7,238.1 L53.9,237.1 L54.0,236.1 L54.2,235.1 L54.4,234.1 L54.5,233.1 L54.7,232.1 L54.8,231.2 L55.0,230.2 L55.2,229.2 L55.3,228.2 L55.5,227.2 L55.7,226.2 L55.9,225.2 L56.0,224.3 L56.2,223.3 L56.4,222.3 L56.6,221.3 L56.7,220.3 L56.9,219.3 L57.1,218.4 L57.3,217.4 L57.5,216.4 L57.7,215.4 L57.9,214.4 L58.1,213.5 L58.3,212.5 L58.5,211.5 L58.7,210.5 L59.0,209.6 L59.2,208.6 L59.5,207.6 L59.7,206.7 L60.0,205.7 L60.3,204.7 L60.6,203.8 L60.9,202.8 L61.2,201.9 L61.5,200.9 L61.8,200.0 L62.1,199.0 L62.4,198.1 L62.8,197.1 L63.1,196.2 L63.4,195.2 L63.8,194.3 L64.1,193.4 L64.4,192.4 L64.8,191.5 L65.1,190.5 L65.4,189.6 L65.8,188.7 L66.1,187.7 L66.5,186.8 L66.8,185.8 L67.2,184.9 L67.5,184.0 L67.9,183.0 L68.2,182.1 L68.6,181.2 L68.9,180.2 L69.3,179.3 L69.7,178.4 L70.0,177.4 L70.4,176.5 L70.8,175.6 L71.1,174.6 L71.5,173.7 L71.9,172.8 L72.2,171.9 L72.6,170.9 L73.0,170.0 L73.3,169.1 L73.7,168.1 L74.1,167.2 L74.5,166.3 L74.8,165.3 L75.2,164.4 L75.6,163.5 L75.9,162.6 L76.3,161.6 L76.7,160.7 L77.0,159.8 L77.4,158.8 L77.7,157.9 L78.1,157.0 L78.4,156.0 L78.8,155.1 L79.1,154.2 L79.5,153.2 L79.8,152.3 L80.2,151.3 L80.5,150.4 L80.9,149.5 L81.2,148.5 L81.6,147.6 L81.9,146.6 L82.3,145.7 L82.6,144.8 L83.0,143.8 L83.3,142.9 L83.7,142.0 L84.0,141.0 L84.4,140.1 L84.7,139.2 L85.1,138.2 L85.4,137.3 L85.8,136.4 L86.2,135.4 L86.5,134.5 L86.9,133.6 L87.2,132.6 L87.6,131.7 L88.0,130.8 L88.4,129.8 L88.7,128.9 L89.1,128.0 L89.5,127.1 L89.9,126.2 L90.3,125.2 L90.7,124.3 L91.2,123.4 L91.6,122.5 L92.1,121.7 L92.5,120.8 L93.0,119.9 L93.5,119.0 L94.0,118.1 L94.5,117.3 L94.9,116.4 L95.4,115.5 L95.9,114.6 L96.3,113.7 L96.8,112.9 L97.3,112.0 L97.8,111.1 L98.3,110.2 L98.8,109.4 L99.3,108.6 L99.9,107.7 L100.5,106.9 L101.1,106.2 L101.7,105.4 L102.3,104.6 L102.9,103.8 L103.5,103.0 L104.0,102.2 L104.6,101.3 L105.1,100.5 L105.7,99.7 L106.2,98.8 L106.7,98.0 L107.3,97.2 L107.9,96.4 L108.5,95.6 L109.2,94.9 L109.9,94.1 L110.6,93.4 L111.3,92.7 L112.0,92.0 L112.7,91.3 L113.4,90.7 L114.2,90.0 L114.9,89.3 L115.7,88.7 L116.5,88.1 L117.3,87.4 L118.1,86.8 L118.9,86.3 L119.7,85.7 L120.5,85.1 L121.4,84.6 L122.2,84.1 L123.1,83.6 L123.9,83.1 L124.8,82.6 L125.7,82.1 L126.6,81.6 L127.5,81.2 L128.4,80.8 L129.3,80.4 L130.2,80.0 L131.1,79.6 L132.1,79.3 L133.0,78.9 L133.9,78.6 L134.9,78.3 L135.8,78.0 L136.8,77.6 L137.7,77.3 L138.7,77.0 L139.6,76.7 L140.6,76.4 L141.5,76.1 L142.5,75.8 L143.5,75.5 L144.4,75.3 L145.4,75.0 L146.3,74.8 L147.3,74.5 L148.3,74.3 L149.3,74.1 L150.2,73.8 L151.2,73.6 L152.2,73.4 L153.2,73.2 L154.1,73.0 L155.1,72.8 L156.1,72.6 L157.1,72.4 L158.1,72.2 L159.1,72.0 L160.0,71.9 L161.0,71.7 L162.0,71.6 L163.0,71.4 L164.0,71.3 L165.0,71.2 L166.0,71.0 L167.0,70.9 L168.0,70.9 L169.0,70.8 L170.0,70.7 L171.0,70.6 L172.0,70.6 L173.0,70.5 L174.0,70.5 L175.0,70.5 L176.0,70.5 L177.0,70.5 L178.0,70.5 L179.0,70.5 L180.0,70.5 L181.0,70.5 L182.0,70.6 L183.0,70.6 L184.0,70.6 L185.0,70.6 L186.0,70.7 L187.0,70.7 L188.0,70.8 L188.9,70.8 L189.9,70.9 L190.9,71.0 L191.9,71.0 L192.9,71.1 L193.9,71.2 L194.9,71.4 L195.9,71.5 L196.9,71.6 L197.9,71.7 L198.9,71.9 L199.9,72.0 L200.9,72.2 L201.8,72.4 L202.8,72.6 L203.8,72.7 L204.8,72.9 L205.8,73.1 L206.7,73.4 L207.7,73.6 L208.7,73.8 L209.7,74.0 L210.6,74.3 L211.6,74.5 L212.6,74.8 L213.5,75.1 L214.5,75.3 L215.5,75.6 L216.4,75.9 L217.4,76.2 L218.3,76.5 L219.3,76.8 L220.2,77.1 L221.2,77.4 L222.1,77.7 L223.1,78.0 L224.0,78.3 L225.0,78.6 L225.9,79.0 L226.9,79.3 L227.8,79.6 L228.7,80.0 L229.7,80.3 L230.6,80.7 L231.6,81.1 L232.5,81.4 L233.4,81.8 L234.3,82.2 L235.3,82.5 L236.2,82.9 L237.1,83.3 L238.0,83.7 L239.0,84.1 L239.9,84.5 L240.8,84.9 L241.7,85.3 L242.6,85.7 L243.5,86.1 L244.4,86.5 L245.4,86.9 L246.3,87.3 L247.2,87.8 L248.1,88.2 L249.0,88.6 L249.9,89.1 L250.8,89.5 L251.7,89.9 L252.6,90.4 L253.5,90.8 L254.4,91.3 L255.3,91.7 L256.1,92.2 L257.0,92.6 L257.9,93.1 L258.8,93.5 L259.7,94.0 L260.6,94.5 L261.5,94.9 L262.4,95.4 L263.2,95.9 L264.1,96.3 L265.0,96.8 L265.9,97.3 L266.8,97.8 L267.6,98.2 L268.5,98.7 L269.4,99.2 L270.3,99.7 L271.2,100.1 L272.0,100.6 L272.9,101.1 L273.8,101.6 L274.7,102.0 L275.5,102.5 L276.4,103.0 L277.3,103.5 L278.2,104.0 L279.0,104.5 L279.9,105.0 L280.8,105.5 L281.7,106.0 L282.5,106.4 L283.4,106.9 L284.3,107.4 L285.1,107.9 L286.0,108.4 L286.8,108.9 L287.7,109.4 L288.6,109.9 L289.0,110.2" stroke="#a020f0"/>
<path d="M52.8,244.0 L53.0,243.0 L53.1,242.0 L53.3,241.0 L53.4,240.1 L53.6,239.1 L53.8,238.1 L53.9,237.1 L54.1,236.1 L54.3,235.1 L54.4,234.1 L54.6,233.1 L54.8,232.2 L54.9,231.2 L55.1,230.2 L55.3,229.2 L55.4,228.2 L55.6,227.2 L55.8,226.2 L56.0,225.3 L56.1,224.3 L56.3,223.3 L56.5,222.3 L56.7,221.3 L56.8,220.3 L57.0,219.4 L57.2,218.4 L57.4,217.4 L57.6,216.4 L57.8,215.4 L58.0,214.5 L58.2,213.5 L58.4,212.5 L58.6,211.5 L58.8,210.5 L59.1,209.6 L59.3,208.6 L59.6,207.6 L59.8,206.7 L60.1,205.7 L60.4,204.8 L60.7,203.8 L61.0,202.8 L61.3,201.9 L61.6,200.9 L61.9,200.0 L62.2,199.0 L62.5,198.1 L62.9,197.1 L63.2,196.2 L63.5,195.3 L63.9,194.3 L64.2,193.4 L64.5,192.4 L64.9,191.5 L65.2,190.6 L65.5,189.6 L65.9,188.7 L66.2,187.7 L66.6,186.8 L66.9,185.8 L67.2,184.9 L67.6,184.0 L67.9,183.0 L68.3,182.1 L68.6,181.1 L69.0,180.2 L69.3,179.3 L69.7,178.3 L70.0,177.4 L70.4,176.5 L70.8,175.6 L71.2,174.6 L71.5,173.7 L71.9,172.8 L72.3,171.9 L72.7,171.0 L73.1,170.0 L73.5,169.1 L74.0,168.2 L74.4,167.3 L74.8,166.4 L75.2,165.5 L75.7,164.6 L76.1,163.7 L76.5,162.8 L76.9,161.9 L77.3,161.0 L77.8,160.1 L78.2,159.1 L78.6,158.2 L79.0,157.3 L79.3,156.4 L79.7,155.5 L80.1,154.5 L80.5,153.6 L80.9,152.7 L81.2,151.8 L81.6,150.8 L81.9,149.9 L82.3,149.0 L82.7,148.0 L83.0,147.1 L83.4,146.2 L83.8,145.2 L84.2,144.3 L84.5,143.4 L84.9,142.5 L85.3,141.5 L85.7,140.6 L86.1,139.7 L86.5,138.8 L87.0,137.9 L87.4,137.0 L87.9,136.1 L88.3,135.2 L88.8,134.3 L89.2,133.5 L89.7,132.6 L90.2,131.7 L90.6,130.8 L91.1,129.9 L91.6,129.0 L92.0,128.1 L92.5,127.3 L93.0,126.4 L93.5,125.5 L94.0,124.7 L94.5,123.8 L95.0,122.9 L95.5,122.1 L96.1,121.2 L96.6,120.4 L97.1,119.6 L97.7,118.7 L98.2,117.9 L98.7,117.0 L99.2,116.1 L99.7,115.3 L100.2,114.4 L100.7,113.5 L101.2,112.7 L101.7,111.8 L102.1,110.9 L102.6,110.1 L103.2,109.2 L103.7,108.4 L104.3,107.6 L104.9,106.8 L105.5,106.0 L106.2,105.3 L106.8,104.5 L107.5,103.7 L108.1,103.0 L108.7,102.2 L109.3,101.4 L109.9,100.6 L110.5,99.8 L111.1,99.0 L111.7,98.2 L112.4,97.4 L113.0,96.7 L113.6,95.9 L114.3,95.1 L115.0,94.4 L115.7,93.7 L116.4,93.0 L117.1,92.4 L117.9,91.7 L118.7,91.1 L119.5,90.5 L120.3,89.9 L121.1,89.3 L121.9,88.8 L122.8,88.2 L123.6,87.7 L124.5,87.2 L125.3,86.7 L126.2,86.2 L127.1,85.7 L128.0,85.3 L128.9,84.8 L129.8,84.4 L130.7,84.0 L131.6,83.6 L132.5,83.2 L133.4,82.8 L134.4,82.4 L135.3,82.1 L136.2,81.7 L137.2,81.4 L138.1,81.1 L139.1,80.7 L140.0,80.4 L140.9,80.1 L141.9,79.7 L142.8,79.4 L143.8,79.1 L144.7,78.8 L145.7,78.5 L146.7,78.3 L147.6,78.0 L148.6,77.7 L149.6,77.5 L150.5,77.2 L151.5,77.0 L152.5,76.7 L153.4,76.5 L154.4,76.2 L155.4,76.0 L156.3,75.7 L157.3,75.5 L158.3,75.3 L159.3,75.0 L160.2,74.8 L161.2,74.6 L162.2,74.4 L163.2,74.2 L164.2,74.0 L165.1,73.9 L166.1,73.7 L167.1,73.5 L168.1,73.4 L169.1,73.3 L170.1,73.2 L171.1,73.1 L172.1,73.0 L173.1,72.9 L174.1,72.8 L175.1,72.8 L176.1,72.7 L177.1,72.7 L178.1,72.7 L179.1,72.6 L180.1,72.6 L181.1,72.6 L182.1,72.6 L183.1,72.6 L184.1,72.6 L185.1,72.6 L186.1,72.6 L187.1,72.7 L188.1,72.7 L189.1,72.7 L190.1,72.8 L191.1,72.8 L192.0,72.9 L193.0,73.0 L194.0,73.0 L195.0,73.1 L196.0,73.2 L197.0,73.3 L198.0,73.4 L199.0,73.5 L200.0,73.7 L201.0,73.8 L202.0,73.9 L203.0,74.1 L204.0,74.3 L204.9,74.4 L205.9,74.6 L206.9,74.8 L207.9,75.0 L208.9,75.3 L209.8,75.5 L210.8,75.8 L211.7,76.0 L212.7,76.3 L213.7,76.6 L214.6,76.9 L215.6,77.2 L216.5,77.5 L217.5,77.9 L218.4,78.2 L219.3,78.5 L220.3,78.9 L221.2,79.2 L222.2,79.6 L223.1,80.0 L224.0,80.3 L224.9,80.7 L225.9,81.1 L226.8,81.5 L227.7,81.9 L228.6,82.3 L229.5,82.7 L230.4,83.1 L231.3,83.5 L232.2,84.0 L233.1,84.4 L234.0,84.8 L234.9,85.3 L235.8,85.7 L236.7,86.2 L237.6,86.6 L238.5,87.1 L239.4,87.5 L240.3,88.0 L241.2,88.5 L242.1,88.9 L242.9,89.4 L243.8,89.9 L244.7,90.3 L245.6,90.8 L246.5,91.3 L247.4,91.7 L248.2,92.2 L249.1,92.7 L250.0,93.2 L250.9,93.6 L251.8,94.1 L252.6,94.6 L253.5,95.1 L254.4,95.5 L255.3,96.0 L256.2,96.5 L257.0,97.0 L257.9,97.5 L258.8,97.9 L259.7,98.4 L260.5,98.9 L261.4,99.4 L262.3,99.8 L263.2,100.3 L264.1,100.8 L264.9,101.3 L265.8,101.8 L266.7,102.2 L267.6,102.7 L268.5,103.2 L269.3,103.6 L270.2,104.1 L271.1,104.6 L272.0,105.0 L272.9,105.5 L273.8,106.0 L274.7,106.4 L275.6,106.9 L276.4,107.3 L277.3,107.8 L278.2,108.2 L279.1,108.6 L280.0,109.1 L280.9,109.5 L281.8,109.9 L282.8,110.3 L283.7,110.8 L284.6,111.2 L285.5,111.6 L286.4,111.9 L287.2,112.3 L288.1,112.7 L289.0,113.1" stroke="#ff00ff"/>
<path d="M52.8,244.0 L53.0,243.0 L53.1,242.0 L53.3,241.0 L53.4,240.1 L53.6,239.1 L53.8,238.1 L53.9,237.1 L54.1,236.1 L54.2,235.1 L54.4,234.1 L54.6,233.1 L54.7,232.2 L54.9,231.2 L55.1,230.2 L55.2,229.2 L55.4,228.2 L55.6,227.2 L55.8,226.2 L56.0,225.3 L56.2,224.3 L56.3,223.3 L56.5,222.3 L56.7,221.3 L56.9,220.4 L57.1,219.4 L57.3,218.4 L57.6,217.4 L57.8,216.5 L58.0,215.5 L58.2,214.5 L58.5,213.5 L58.7,212.6 L58.9,211.6 L59.2,210.6 L59.5,209.7 L59.7,208.7 L60.0,207.7 L60.3,206.8 L60.6,205.8 L60.9,204.9 L61.2,203.9 L61.5,203.0 L61.8,202.0 L62.1,201.1 L62.5,200.1 L62.8,199.2 L63.1,198.2 L63.5,197.3 L63.8,196.4 L64.1,195.4 L64.5,194.5 L64.8,193.5 L65.2,192.6 L65.5,191.7 L65.9,190.7 L66.2,189.8 L66.6,188.8 L66.9,187.9 L67.3,187.0 L67.6,186.0 L68.0,185.1 L68.3,184.2 L68.7,183.2 L69.0,182.3 L69.4,181.4 L69.7,180.4 L70.1,179.5 L70.5,178.6 L70.9,177.6 L71.2,176.7 L71.6,175.8 L72.0,174.9 L72.4,174.0 L72.8,173.0 L73.2,172.1 L73.6,171.2 L74.1,170.3 L74.5,169.4 L74.9,168.5 L75.4,167.6 L75.8,166.7 L76.3,165.8 L76.7,164.9 L77.2,164.0 L77.6,163.1 L78.1,162.3 L78.5,161.4 L79.0,160.5 L79.4,159.6 L79.8,158.7 L80.3,157.8 L80.7,156.9 L81.2,156.0 L81.6,155.1 L82.0,154.2 L82.5,153.3 L82.9,152.4 L83.3,151.5 L83.7,150.6 L84.2,149.7 L84.6,148.7 L85.0,147.8 L85.4,146.9 L85.8,146.0 L86.2,145.1 L86.6,144.2 L87.0,143.3 L87.4,142.4 L87.9,141.5 L88.3,140.6 L88.8,139.7 L89.3,138.8 L89.8,138.0 L90.3,137.1 L90.8,136.3 L91.4,135.4 L91.9,134.6 L92.4,133.7 L93.0,132.9 L93.5,132.0 L94.0,131.2 L94.6,130.3 L95.1,129.5 L95.7,128.7 L96.2,127.8 L96.8,127.0 L97.3,126.2 L97.9,125.3 L98.5,124.5 L99.0,123.7 L99.6,122.9 L100.2,122.1 L100.8,121.2 L101.4,120.4 L102.0,119.7 L102.6,118.9 L103.3,118.1 L103.9,117.4 L104.6,116.7 L105.4,116.0 L106.1,115.4 L106.9,114.8 L107.7,114.2 L108.5,113.6 L109.4,113.1 L110.2,112.6 L111.1,112.2 L112.0,111.7 L112.9,111.3 L113.8,111.0 L114.8,110.6 L115.7,110.3 L116.7,110.1 L117.7,109.8 L118.6,109.6 L119.6,109.4 L120.6,109.2 L121.6,109.0 L122.5,108.8 L123.5,108.6 L124.5,108.5 L125.5,108.3 L126.5,108.1 L127.5,108.0 L128.5,107.8 L129.4,107.7 L130.4,107.5 L131.4,107.4 L132.4,107.2 L133.4,107.1 L134.4,106.9 L135.4,106.8 L136.4,106.7 L137.4,106.5 L138.4,106.4 L139.4,106.3 L140.3,106.2 L141.3,106.1 L142.3,105.9 L143.3,105.8 L144.3,105.7 L145.3,105.6 L146.3,105.5 L147.3,105.4 L148.3,105.2 L149.3,105.1 L150.3,104.9 L151.2,104.8 L152.2,104.6 L153.2,104.4 L154.2,104.1 L155.2,103.9 L156.1,103.7 L157.1,103.4 L158.1,103.1 L159.0,102.9 L160.0,102.6 L161.0,102.4 L161.9,102.1 L162.9,101.9 L163.9,101.6 L164.8,101.4 L165.8,101.2 L166.8,100.9 L167.8,100.7 L168.7,100.5 L169.7,100.3 L170.7,100.1 L171.7,99.9 L172.6,99.7 L173.6,99.5 L174.6,99.3 L175.6,99.2 L176.6,99.0 L177.6,98.9 L178.6,98.8 L179.6,98.7 L180.6,98.6 L181.5,98.5 L182.5,98.4 L183.5,98.3 L184.5,98.2 L185.5,98.2 L186.5,98.1 L187.5,98.0 L188.5,98.0 L189.5,97.9 L190.5,97.9 L191.5,97.9 L192.5,97.9 L193.5,97.8 L194.5,97.8 L195.5,97.9 L196.5,97.9 L197.5,97.9 L198.5,98.0 L199.5,98.0 L200.5,98.1 L201.5,98.2 L202.5,98.2 L203.5,98.3 L204.5,98.4 L205.5,98.5 L206.5,98.6 L207.5,98.7 L208.5,98.9 L209.5,99.0 L210.5,99.1 L211.5,99.2 L212.4,99.4 L213.4,99.5 L214.4,99.6 L215.4,99.8 L216.4,99.9 L217.4,100.1 L218.4,100.2 L219.4,100.4 L220.4,100.5 L221.3,100.7 L222.3,100.9 L223.3,101.0 L224.3,101.2 L225.3,101.4 L226.3,101.6 L227.3,101.8 L228.2,101.9 L229.2,102.1 L230.2,102.3 L231.2,102.5 L232.2,102.6 L233.2,102.8 L234.1,103.0 L235.1,103.1 L236.1,103.3 L237.1,103.4 L238.1,103.6 L239.1,103.8 L240.1,104.0 L241.0,104.2 L242.0,104.4 L243.0,104.6 L244.0,104.8 L244.9,105.0 L245.9,105.3 L246.9,105.5 L247.8,105.8 L248.8,106.1 L249.8,106.4 L250.7,106.7 L251.7,107.0 L252.6,107.3 L253.6,107.6 L254.5,107.9 L255.5,108.2 L256.4,108.5 L257.4,108.8 L258.3,109.1 L259.3,109.4 L260.2,109.7 L261.2,110.1 L262.1,110.4 L263.1,110.7 L264.0,110.9 L265.0,111.2 L266.0,111.5 L266.9,111.8 L267.9,112.1 L268.8,112.4 L269.8,112.7 L270.7,113.0 L271.7,113.2 L272.7,113.5 L273.6,113.8 L274.6,114.1 L275.5,114.4 L276.5,114.7 L277.4,115.1 L278.4,115.4 L279.3,115.7 L280.2,116.1 L281.1,116.5 L282.1,116.9 L283.0,117.3 L283.9,117.7 L284.8,118.1 L285.6,118.6 L286.5,119.0 L287.3,119.4 L288.2,119.9 L289.0,120.3" stroke="#a52a2a"/>
</g>
<path d="M94.40,244.10 L94.40,173.30 L247.60,173.30 L247.60,244.10" fill="#fff" stroke="#909090" stroke-width="1.3"/>
<line x1="104.80" y1="194.0" x2="104.80" y2="232.8" stroke="#000000" stroke-width="1.5"/>
<text x="104.80" y="192.6" font-size="11" text-anchor="middle">1</text>
<line x1="119.48" y1="194.0" x2="119.48" y2="232.8" stroke="#ff0000" stroke-width="1.5"/>
<text x="119.48" y="192.6" font-size="11" text-anchor="middle">2</text>
<line x1="134.16" y1="194.0" x2="134.16" y2="232.8" stroke="#ffa500" stroke-width="1.5"/>
<text x="134.16" y="192.6" font-size="11" text-anchor="middle">3</text>
<line x1="148.84" y1="194.0" x2="148.84" y2="232.8" stroke="#ffff00" stroke-width="1.5"/>
<text x="148.84" y="192.6" font-size="11" text-anchor="middle">4</text>
<line x1="163.52" y1="194.0" x2="163.52" y2="232.8" stroke="#00ff00" stroke-width="1.5"/>
<text x="163.52" y="192.6" font-size="11" text-anchor="middle">5</text>
<line x1="178.20" y1="194.0" x2="178.20" y2="232.8" stroke="#00eeee" stroke-width="1.5"/>
<text x="178.20" y="192.6" font-size="11" text-anchor="middle">6</text>
<line x1="192.88" y1="194.0" x2="192.88" y2="232.8" stroke="#0000ff" stroke-width="1.5"/>
<text x="192.88" y="192.6" font-size="11" text-anchor="middle">7</text>
<line x1="207.56" y1="194.0" x2="207.56" y2="232.8" stroke="#a020f0" stroke-width="1.5"/>
<text x="207.56" y="192.6" font-size="11" text-anchor="middle">8</text>
<line x1="222.24" y1="194.0" x2="222.24" y2="232.8" stroke="#ff00ff" stroke-width="1.5"/>
<text x="222.24" y="192.6" font-size="11" text-anchor="middle">9</text>
<line x1="236.92" y1="194.0" x2="236.92" y2="232.8" stroke="#a52a2a" stroke-width="1.5"/>
<text x="236.92" y="192.6" font-size="11" text-anchor="middle">10</text>
<rect x="52.76" y="7.40" width="236.44" height="236.70" fill="none" stroke="#909090" stroke-width="1.60"/>
<path d="M52.76,244.10L52.76,249.90 M52.76,7.40L52.76,1.60 M92.17,244.10L92.17,249.90 M92.17,7.40L92.17,1.60 M131.57,244.10L131.57,249.90 M131.57,7.40L131.57,1.60 M170.98,244.10L170.98,249.90 M170.98,7.40L170.98,1.60 M210.39,244.10L210.39,249.90 M210.39,7.40L210.39,1.60 M249.79,244.10L249.79,249.90 M249.79,7.40L249.79,1.60 M289.20,244.10L289.20,249.90 M289.20,7.40L289.20,1.60 M52.76,220.43L46.96,220.43 M289.20,220.43L295.00,220.43 M52.76,173.09L46.96,173.09 M289.20,173.09L295.00,173.09 M52.76,125.75L46.96,125.75 M289.20,125.75L295.00,125.75 M52.76,78.41L46.96,78.41 M289.20,78.41L295.00,78.41 M52.76,31.07L46.96,31.07 M289.20,31.07L295.00,31.07" stroke="#555555" stroke-width="1.15" fill="none"/>
<path d="M62.61,244.10L62.61,246.90 M62.61,7.40L62.61,4.60 M72.46,244.10L72.46,246.90 M72.46,7.40L72.46,4.60 M82.31,244.10L82.31,246.90 M82.31,7.40L82.31,4.60 M102.02,244.10L102.02,246.90 M102.02,7.40L102.02,4.60 M111.87,244.10L111.87,246.90 M111.87,7.40L111.87,4.60 M121.72,244.10L121.72,246.90 M121.72,7.40L121.72,4.60 M141.42,244.10L141.42,246.90 M141.42,7.40L141.42,4.60 M151.28,244.10L151.28,246.90 M151.28,7.40L151.28,4.60 M161.13,244.10L161.13,246.90 M161.13,7.40L161.13,4.60 M180.83,244.10L180.83,246.90 M180.83,7.40L180.83,4.60 M190.68,244.10L190.68,246.90 M190.68,7.40L190.68,4.60 M200.53,244.10L200.53,246.90 M200.53,7.40L200.53,4.60 M220.24,244.10L220.24,246.90 M220.24,7.40L220.24,4.60 M230.09,244.10L230.09,246.90 M230.09,7.40L230.09,4.60 M239.94,244.10L239.94,246.90 M239.94,7.40L239.94,4.60 M259.64,244.10L259.64,246.90 M259.64,7.40L259.64,4.60 M269.50,244.10L269.50,246.90 M269.50,7.40L269.50,4.60 M279.35,244.10L279.35,246.90 M279.35,7.40L279.35,4.60 M52.76,244.10L49.96,244.10 M289.20,244.10L292.00,244.10 M52.76,232.26L49.96,232.26 M289.20,232.26L292.00,232.26 M52.76,208.59L49.96,208.59 M289.20,208.59L292.00,208.59 M52.76,196.76L49.96,196.76 M289.20,196.76L292.00,196.76 M52.76,184.93L49.96,184.93 M289.20,184.93L292.00,184.93 M52.76,161.25L49.96,161.25 M289.20,161.25L292.00,161.25 M52.76,149.42L49.96,149.42 M289.20,149.42L292.00,149.42 M52.76,137.58L49.96,137.58 M289.20,137.58L292.00,137.58 M52.76,113.91L49.96,113.91 M289.20,113.91L292.00,113.91 M52.76,102.08L49.96,102.08 M289.20,102.08L292.00,102.08 M52.76,90.25L49.96,90.25 M289.20,90.25L292.00,90.25 M52.76,66.58L49.96,66.58 M289.20,66.58L292.00,66.58 M52.76,54.74L49.96,54.74 M289.20,54.74L292.00,54.74 M52.76,42.91L49.96,42.91 M289.20,42.91L292.00,42.91 M52.76,19.24L49.96,19.24 M289.20,19.24L292.00,19.24 M52.76,7.40L49.96,7.40 M289.20,7.40L292.00,7.40" stroke="#8a8a8a" stroke-width="1.0" fill="none"/>
<text x="39.9" y="34.97" font-size="11" text-anchor="end">0.8</text>
<text x="39.9" y="82.31" font-size="11" text-anchor="end">0.4</text>
<text x="39.9" y="129.65" font-size="11" text-anchor="end">0.0</text>
<text x="39.9" y="176.99" font-size="11" text-anchor="end">-0.4</text>
<text x="39.9" y="224.33" font-size="11" text-anchor="end">-0.8</text>
<text x="52.76" y="265.7" font-size="11" text-anchor="middle">6</text>
<text x="92.17" y="265.7" font-size="11" text-anchor="middle">8</text>
<text x="131.57" y="265.7" font-size="11" text-anchor="middle">10</text>
<text x="170.98" y="265.7" font-size="11" text-anchor="middle">12</text>
<text x="210.39" y="265.7" font-size="11" text-anchor="middle">14</text>
<text x="249.79" y="265.7" font-size="11" text-anchor="middle">16</text>
<text x="289.20" y="265.7" font-size="11" text-anchor="middle">18</text>
<text x="171.6" y="284.4" font-size="13.4" text-anchor="middle">Time (UTC)</text>
<text transform="translate(10.1,125.6) rotate(-90)" font-size="13.4" text-anchor="middle">UWI [m/s]</text>
<g fill="none" stroke-width="1.7" stroke-linejoin="round" stroke-linecap="round">
<path d="M452.1,245.2 L451.3,244.6 L450.5,244.0 L449.7,243.3 L449.0,242.7 L448.2,242.1 L447.4,241.5 L446.6,240.8 L445.9,240.2 L445.1,239.5 L444.3,238.9 L443.6,238.2 L442.9,237.5 L442.2,236.8 L441.4,236.1 L440.7,235.4 L440.0,234.7 L439.3,234.0 L438.6,233.3 L438.0,232.6 L437.3,231.8 L436.6,231.1 L436.0,230.3 L435.4,229.5 L434.8,228.7 L434.2,227.9 L433.7,227.1 L433.1,226.2 L432.7,225.3 L432.2,224.5 L431.8,223.6 L431.3,222.7 L430.9,221.7 L430.6,220.8 L430.2,219.9 L429.9,218.9 L429.5,218.0 L429.2,217.1 L428.9,216.1 L428.5,215.2 L428.2,214.2 L427.9,213.3 L427.5,212.3 L427.2,211.4 L426.9,210.4 L426.6,209.5 L426.3,208.5 L426.0,207.6 L425.8,206.6 L425.5,205.6 L425.3,204.7 L425.1,203.7 L424.9,202.7 L424.6,201.7 L424.5,200.8 L424.3,199.8 L424.1,198.8 L423.9,197.8 L423.8,196.8 L423.6,195.8 L423.5,194.8 L423.4,193.8 L423.4,192.8 L423.3,191.8 L423.3,190.8 L423.4,189.8 L423.4,188.9 L423.5,187.9 L423.6,186.9 L423.7,185.9 L423.9,184.9 L424.1,183.9 L424.3,182.9 L424.5,182.0 L424.8,181.0 L425.1,180.0 L425.3,179.1 L425.6,178.1 L425.9,177.2 L426.2,176.2 L426.5,175.2 L426.8,174.3 L427.1,173.3 L427.4,172.4 L427.8,171.5 L428.2,170.5 L428.6,169.6 L429.0,168.7 L429.4,167.8 L429.8,166.9 L430.3,166.0 L430.7,165.1 L431.2,164.2 L431.7,163.4 L432.1,162.5 L432.6,161.6 L433.1,160.7 L433.6,159.9 L434.2,159.0 L434.7,158.2 L435.3,157.4 L435.9,156.6 L436.5,155.8 L437.2,155.0 L437.8,154.3 L438.6,153.6 L439.3,153.0 L440.1,152.3 L440.8,151.7 L441.6,151.0 L442.4,150.4 L443.2,149.8 L443.9,149.2 L444.7,148.6 L445.5,148.0 L446.4,147.4 L447.2,146.8 L448.0,146.3 L448.9,145.8 L449.7,145.3 L450.6,144.8 L451.5,144.4 L452.5,144.1 L453.4,143.7 L454.3,143.4 L455.3,143.0 L456.2,142.7 L457.2,142.4 L458.2,142.2 L459.1,141.9 L460.1,141.6 L461.1,141.4 L462.0,141.2 L463.0,141.0 L464.0,140.8 L465.0,140.6 L466.0,140.4 L466.9,140.3 L467.9,140.1 L468.9,140.0 L469.9,139.9 L470.9,139.7 L471.9,139.6 L472.9,139.5 L473.9,139.4 L474.9,139.3 L475.9,139.2 L476.9,139.1 L477.9,139.0 L478.9,138.9 L479.9,138.9 L480.9,138.8 L481.9,138.7 L482.9,138.7 L483.9,138.6 L484.9,138.6 L485.9,138.6 L486.9,138.6 L487.9,138.6 L488.9,138.7 L489.9,138.7 L490.9,138.8 L491.8,138.8 L492.8,138.8 L493.8,138.9 L494.8,138.9 L495.8,139.0 L496.8,139.0 L497.8,139.1 L498.8,139.1 L499.8,139.2 L500.8,139.2 L501.8,139.2 L502.8,139.3 L503.8,139.3 L504.8,139.3 L505.8,139.4 L506.8,139.4 L507.8,139.4 L508.8,139.5 L509.8,139.5 L510.8,139.5 L511.8,139.6 L512.8,139.6 L513.8,139.6 L514.8,139.6 L515.8,139.7 L516.8,139.7 L517.8,139.8 L518.8,139.8 L519.8,139.8 L520.8,139.9 L521.8,139.9 L522.8,140.0 L523.8,140.1 L524.8,140.1 L525.8,140.2 L526.8,140.2 L527.8,140.3 L528.8,140.4 L529.8,140.5 L530.8,140.6 L531.8,140.8 L532.8,140.9 L533.8,141.1 L534.7,141.3 L535.7,141.5 L536.7,141.8 L537.6,142.1 L538.5,142.5 L539.4,143.0 L540.3,143.5 L541.1,144.0 L541.9,144.6 L542.7,145.2 L543.4,145.9 L544.2,146.5 L544.9,147.2 L545.6,148.0 L546.2,148.7 L546.8,149.5 L547.4,150.3 L547.9,151.2 L548.4,152.0 L548.8,152.9 L549.2,153.8 L549.5,154.7 L549.8,155.6" stroke="#0a6e0a"/>
<path d="M404.5,245.2 L403.9,244.4 L403.2,243.7 L402.6,242.9 L401.9,242.1 L401.3,241.4 L400.7,240.6 L400.1,239.8 L399.5,238.9 L399.0,238.1 L398.5,237.2 L398.1,236.3 L397.6,235.4 L397.2,234.5 L396.9,233.6 L396.5,232.7 L396.2,231.7 L395.9,230.8 L395.7,229.8 L395.4,228.8 L395.2,227.8 L395.0,226.9 L394.8,225.9 L394.7,224.9 L394.6,223.9 L394.5,222.9 L394.4,221.9 L394.4,220.9 L394.3,219.9 L394.3,218.9 L394.3,217.9 L394.3,216.9 L394.3,215.9 L394.2,214.9 L394.2,213.9 L394.2,212.9 L394.2,211.9 L394.2,210.9 L394.2,209.9 L394.1,208.9 L394.1,207.9 L394.1,206.9 L394.1,205.9 L394.1,204.9 L394.1,203.9 L394.0,202.9 L394.0,201.9 L394.0,200.9 L394.0,199.9 L394.0,198.9 L394.0,197.9 L394.0,196.9 L394.0,195.9 L394.0,194.9 L394.0,193.9 L394.0,192.9 L394.0,191.9 L394.0,190.9 L394.0,189.9 L394.0,188.9 L394.0,187.9 L394.0,186.9 L394.0,185.9 L394.0,184.9 L394.1,183.9 L394.1,182.9 L394.1,181.9 L394.2,180.9 L394.2,179.9 L394.3,178.9 L394.4,177.9 L394.4,176.9 L394.5,175.9 L394.6,174.9 L394.8,174.0 L394.9,173.0 L395.0,172.0 L395.2,171.0 L395.3,170.0 L395.5,169.0 L395.7,168.0 L395.8,167.0 L396.0,166.0 L396.2,165.1 L396.3,164.1 L396.5,163.1 L396.7,162.1 L396.9,161.1 L397.1,160.2 L397.3,159.2 L397.5,158.2 L397.8,157.2 L398.1,156.3 L398.4,155.3 L398.7,154.4 L399.0,153.4 L399.4,152.5 L399.8,151.6 L400.1,150.7 L400.5,149.7 L400.9,148.8 L401.2,147.9 L401.6,146.9 L401.9,146.0 L402.3,145.1 L402.7,144.1 L403.1,143.2 L403.4,142.3 L403.8,141.4 L404.2,140.5 L404.7,139.5 L405.1,138.6 L405.5,137.7 L405.9,136.8 L406.4,135.9 L406.8,135.0 L407.3,134.2 L407.8,133.3 L408.2,132.4 L408.7,131.5 L409.2,130.7 L409.8,129.8 L410.3,129.0 L410.9,128.1 L411.4,127.3 L412.0,126.5 L412.6,125.7 L413.3,125.0 L413.9,124.2 L414.6,123.4 L415.2,122.7 L415.9,122.0 L416.6,121.3 L417.4,120.6 L418.1,119.9 L418.8,119.2 L419.6,118.6 L420.4,117.9 L421.1,117.3 L421.9,116.7 L422.7,116.1 L423.5,115.5 L424.3,114.9 L425.2,114.3 L426.0,113.8 L426.8,113.2 L427.7,112.7 L428.5,112.2 L429.4,111.7 L430.3,111.3 L431.2,110.9 L432.1,110.5 L433.1,110.1 L434.0,109.8 L434.9,109.5 L435.9,109.2 L436.9,108.9 L437.8,108.6 L438.8,108.3 L439.7,108.0 L440.7,107.7 L441.7,107.5 L442.6,107.3 L443.6,107.1 L444.6,106.9 L445.6,106.8 L446.6,106.6 L447.6,106.5 L448.6,106.4 L449.6,106.3 L450.6,106.2 L451.6,106.1 L452.5,106.0 L453.5,106.0 L454.5,105.9 L455.5,105.8 L456.5,105.7 L457.5,105.7 L458.5,105.6 L459.5,105.6 L460.5,105.6 L461.5,105.5 L462.5,105.5 L463.5,105.5 L464.5,105.5 L465.5,105.5 L466.5,105.6 L467.5,105.6 L468.5,105.6 L469.5,105.7 L470.5,105.7 L471.5,105.8 L472.5,105.8 L473.5,105.9 L474.5,106.0 L475.5,106.0 L476.5,106.1 L477.5,106.2 L478.5,106.3 L479.5,106.4 L480.5,106.5 L481.5,106.6 L482.5,106.7 L483.5,106.8 L484.5,106.9 L485.5,107.0 L486.5,107.1 L487.5,107.3 L488.4,107.4 L489.4,107.5 L490.4,107.6 L491.4,107.8 L492.4,107.9 L493.4,108.0 L494.4,108.2 L495.4,108.3 L496.4,108.5 L497.4,108.7 L498.3,108.8 L499.3,109.0 L500.3,109.1 L501.3,109.3 L502.3,109.5 L503.3,109.7 L504.3,109.8 L505.2,110.0 L506.2,110.2 L507.2,110.4 L508.2,110.6 L509.1,110.9 L510.1,111.1 L511.1,111.3 L512.1,111.5 L513.0,111.8 L514.0,112.1 L515.0,112.3 L515.9,112.6 L516.9,112.9 L517.8,113.2 L518.8,113.5 L519.7,113.9 L520.7,114.2 L521.6,114.5 L522.5,114.9 L523.5,115.2 L524.4,115.6 L525.4,115.9 L526.3,116.2 L527.3,116.5 L528.2,116.8 L529.1,117.2 L530.1,117.6 L531.0,118.0 L531.9,118.4 L532.7,118.9 L533.6,119.4 L534.5,119.9 L535.3,120.5 L536.1,121.1 L536.9,121.7 L537.7,122.3 L538.4,122.9 L539.2,123.6 L539.9,124.3 L540.6,125.0 L541.2,125.8 L541.8,126.6 L542.4,127.4 L543.0,128.2 L543.5,129.0 L544.0,129.9 L544.5,130.8 L545.0,131.6 L545.5,132.5 L545.9,133.4 L546.3,134.4 L546.6,135.3 L546.9,136.2 L547.2,137.2 L547.4,138.2 L547.6,139.1 L547.7,140.1 L547.7,141.1 L547.7,142.1 L547.7,143.0 L547.6,144.0 L547.5,144.9 L547.5,145.3" stroke="#000000"/>
<path d="M404.5,245.2 L404.1,244.3 L403.7,243.4 L403.3,242.5 L402.9,241.5 L402.5,240.6 L402.1,239.7 L401.7,238.8 L401.3,237.9 L401.0,236.9 L400.6,236.0 L400.3,235.0 L399.9,234.1 L399.6,233.2 L399.3,232.2 L399.0,231.3 L398.7,230.3 L398.4,229.3 L398.2,228.4 L397.9,227.4 L397.7,226.4 L397.6,225.4 L397.4,224.5 L397.3,223.5 L397.2,222.5 L397.1,221.5 L397.0,220.5 L396.9,219.5 L396.9,218.5 L396.8,217.5 L396.8,216.5 L396.7,215.5 L396.7,214.5 L396.7,213.5 L396.6,212.5 L396.6,211.5 L396.6,210.5 L396.5,209.5 L396.5,208.5 L396.5,207.5 L396.5,206.5 L396.5,205.5 L396.5,204.5 L396.5,203.5 L396.5,202.5 L396.5,201.5 L396.6,200.5 L396.6,199.5 L396.6,198.5 L396.6,197.5 L396.6,196.5 L396.7,195.5 L396.7,194.5 L396.7,193.5 L396.8,192.5 L396.8,191.5 L396.9,190.5 L396.9,189.5 L397.0,188.5 L397.1,187.5 L397.2,186.5 L397.3,185.5 L397.4,184.5 L397.5,183.5 L397.6,182.5 L397.8,181.6 L397.9,180.6 L398.0,179.6 L398.2,178.6 L398.4,177.6 L398.5,176.6 L398.7,175.6 L398.9,174.6 L399.1,173.7 L399.3,172.7 L399.5,171.7 L399.7,170.7 L399.9,169.8 L400.2,168.8 L400.4,167.8 L400.7,166.9 L401.0,165.9 L401.2,164.9 L401.5,164.0 L401.9,163.0 L402.2,162.1 L402.6,161.2 L402.9,160.2 L403.3,159.3 L403.7,158.4 L404.1,157.5 L404.5,156.6 L404.9,155.6 L405.3,154.7 L405.7,153.8 L406.1,152.9 L406.5,152.0 L406.9,151.1 L407.3,150.1 L407.7,149.2 L408.0,148.3 L408.4,147.3 L408.7,146.4 L409.1,145.5 L409.4,144.5 L409.8,143.6 L410.1,142.7 L410.5,141.7 L410.8,140.8 L411.2,139.9 L411.6,138.9 L411.9,138.0 L412.3,137.1 L412.7,136.2 L413.2,135.3 L413.6,134.4 L414.0,133.5 L414.5,132.6 L415.0,131.7 L415.5,130.9 L416.1,130.0 L416.7,129.2 L417.3,128.5 L417.9,127.7 L418.6,126.9 L419.2,126.2 L419.9,125.4 L420.5,124.6 L421.1,123.9 L421.8,123.1 L422.4,122.3 L423.1,121.6 L423.7,120.8 L424.4,120.1 L425.0,119.3 L425.7,118.5 L426.3,117.8 L426.9,117.0 L427.6,116.2 L428.3,115.5 L428.9,114.8 L429.6,114.0 L430.3,113.3 L431.1,112.6 L431.8,112.0 L432.6,111.3 L433.3,110.7 L434.1,110.0 L434.9,109.4 L435.7,108.8 L436.5,108.2 L437.3,107.7 L438.1,107.1 L439.0,106.6 L439.8,106.1 L440.7,105.6 L441.6,105.1 L442.5,104.6 L443.4,104.2 L444.3,103.7 L445.2,103.3 L446.1,102.9 L447.0,102.5 L447.9,102.1 L448.9,101.8 L449.8,101.5 L450.8,101.2 L451.7,100.9 L452.7,100.6 L453.6,100.4 L454.6,100.1 L455.6,99.9 L456.6,99.7 L457.6,99.5 L458.5,99.3 L459.5,99.2 L460.5,99.0 L461.5,98.9 L462.5,98.8 L463.5,98.7 L464.5,98.6 L465.5,98.5 L466.5,98.5 L467.5,98.4 L468.5,98.4 L469.5,98.4 L470.5,98.4 L471.5,98.4 L472.5,98.4 L473.5,98.5 L474.5,98.5 L475.5,98.6 L476.5,98.6 L477.5,98.7 L478.5,98.7 L479.5,98.8 L480.5,98.9 L481.4,99.1 L482.4,99.2 L483.4,99.4 L484.4,99.6 L485.4,99.8 L486.4,100.0 L487.3,100.2 L488.3,100.4 L489.3,100.6 L490.3,100.8 L491.2,101.1 L492.2,101.3 L493.2,101.5 L494.2,101.7 L495.1,101.9 L496.1,102.1 L497.1,102.3 L498.1,102.5 L499.0,102.8 L500.0,103.0 L501.0,103.3 L501.9,103.6 L502.9,103.8 L503.9,104.1 L504.8,104.4 L505.8,104.8 L506.7,105.1 L507.7,105.4 L508.6,105.7 L509.6,106.0 L510.5,106.4 L511.4,106.7 L512.4,107.0 L513.3,107.4 L514.3,107.7 L515.2,108.1 L516.1,108.5 L517.0,108.8 L518.0,109.2 L518.9,109.6 L519.8,110.0 L520.7,110.4 L521.6,110.8 L522.5,111.3 L523.4,111.7 L524.3,112.2 L525.1,112.7 L526.0,113.2 L526.8,113.8 L527.7,114.3 L528.5,114.9 L529.3,115.4 L530.2,116.0 L531.0,116.6 L531.8,117.2 L532.6,117.8 L533.4,118.4 L534.2,119.0 L535.0,119.6 L535.8,120.2 L536.6,120.8 L537.4,121.4 L538.1,122.0 L538.9,122.7 L539.7,123.3 L540.4,123.9 L541.2,124.6 L541.9,125.3 L542.7,125.9 L543.4,126.6 L544.1,127.3 L544.8,128.0 L545.5,128.7 L546.2,129.5 L546.9,130.2 L547.5,131.0 L548.1,131.8 L548.7,132.6 L549.3,133.4 L549.9,134.2 L550.4,135.0 L551.0,135.9 L551.5,136.7 L552.0,137.6 L552.5,138.5 L552.9,139.4 L553.4,140.2 L553.9,141.1 L554.3,142.0 L554.7,142.9 L555.1,143.9 L555.5,144.8 L555.8,145.7 L556.2,146.7 L556.5,147.6 L556.8,148.6 L557.1,149.5 L557.3,150.5 L557.6,151.5 L557.8,152.4 L558.0,153.4 L558.1,154.4 L558.2,155.4 L558.3,156.4 L558.4,157.4 L558.4,158.4 L558.4,159.4 L558.4,160.4 L558.4,161.4 L558.3,162.4 L558.2,163.4 L558.1,164.3 L557.9,165.3 L557.8,166.3 L557.6,167.3" stroke="#ff0000"/>
<path d="M404.5,245.2 L404.2,244.2 L404.0,243.3 L403.7,242.3 L403.5,241.3 L403.2,240.4 L403.0,239.4 L402.7,238.4 L402.4,237.5 L402.1,236.5 L401.8,235.6 L401.5,234.6 L401.2,233.7 L400.8,232.7 L400.5,231.8 L400.2,230.8 L399.9,229.9 L399.6,228.9 L399.4,228.0 L399.2,227.0 L399.0,226.0 L398.8,225.0 L398.6,224.0 L398.5,223.0 L398.4,222.0 L398.3,221.1 L398.2,220.1 L398.2,219.1 L398.1,218.1 L398.1,217.1 L398.0,216.1 L398.0,215.1 L398.0,214.1 L397.9,213.1 L397.9,212.1 L397.9,211.1 L397.9,210.1 L397.9,209.1 L397.9,208.1 L397.9,207.1 L398.0,206.1 L398.0,205.1 L398.0,204.1 L398.1,203.1 L398.1,202.1 L398.2,201.1 L398.2,200.1 L398.2,199.1 L398.3,198.1 L398.3,197.1 L398.4,196.1 L398.4,195.1 L398.5,194.1 L398.6,193.1 L398.6,192.1 L398.7,191.1 L398.8,190.1 L398.8,189.1 L398.9,188.1 L399.0,187.1 L399.1,186.1 L399.2,185.1 L399.3,184.1 L399.4,183.1 L399.6,182.1 L399.7,181.1 L399.8,180.1 L400.0,179.2 L400.1,178.2 L400.3,177.2 L400.4,176.2 L400.6,175.2 L400.8,174.2 L401.0,173.2 L401.1,172.3 L401.3,171.3 L401.5,170.3 L401.7,169.3 L402.0,168.3 L402.2,167.4 L402.4,166.4 L402.7,165.4 L402.9,164.5 L403.2,163.5 L403.5,162.5 L403.7,161.6 L404.1,160.6 L404.4,159.7 L404.7,158.7 L405.0,157.8 L405.3,156.8 L405.7,155.9 L406.0,154.9 L406.3,154.0 L406.6,153.1 L407.0,152.1 L407.3,151.2 L407.6,150.2 L408.0,149.3 L408.3,148.3 L408.6,147.4 L409.0,146.5 L409.3,145.5 L409.7,144.6 L410.0,143.6 L410.4,142.7 L410.7,141.8 L411.1,140.8 L411.4,139.9 L411.8,139.0 L412.2,138.0 L412.5,137.1 L412.9,136.2 L413.3,135.3 L413.6,134.3 L414.0,133.4 L414.4,132.5 L414.8,131.6 L415.2,130.7 L415.6,129.8 L416.1,128.9 L416.6,128.0 L417.1,127.1 L417.6,126.3 L418.2,125.5 L418.8,124.7 L419.4,123.9 L420.0,123.1 L420.7,122.3 L421.3,121.6 L422.0,120.8 L422.6,120.1 L423.3,119.3 L424.0,118.6 L424.7,117.9 L425.4,117.2 L426.1,116.5 L426.8,115.8 L427.5,115.1 L428.2,114.4 L429.0,113.7 L429.7,113.0 L430.4,112.3 L431.1,111.6 L431.9,110.9 L432.6,110.2 L433.3,109.5 L434.0,108.8 L434.8,108.2 L435.5,107.5 L436.2,106.8 L436.9,106.1 L437.6,105.4 L438.3,104.6 L439.0,103.9 L439.7,103.2 L440.4,102.5 L441.1,101.8 L441.8,101.1 L442.5,100.4 L443.3,99.8 L444.1,99.2 L445.0,98.7 L445.8,98.2 L446.7,97.7 L447.6,97.3 L448.5,96.9 L449.4,96.5 L450.3,96.1 L451.3,95.7 L452.2,95.4 L453.2,95.0 L454.1,94.7 L455.1,94.4 L456.0,94.2 L457.0,94.0 L458.0,93.8 L459.0,93.6 L459.9,93.4 L460.9,93.2 L461.9,93.1 L462.9,93.0 L463.9,92.8 L464.9,92.7 L465.9,92.6 L466.9,92.5 L467.9,92.4 L468.9,92.3 L469.9,92.2 L470.9,92.1 L471.9,92.1 L472.9,92.0 L473.9,92.0 L474.9,92.0 L475.9,92.0 L476.9,92.1 L477.9,92.1 L478.9,92.2 L479.8,92.3 L480.8,92.4 L481.8,92.5 L482.8,92.7 L483.8,92.8 L484.8,93.0 L485.8,93.1 L486.8,93.3 L487.8,93.4 L488.8,93.6 L489.7,93.8 L490.7,93.9 L491.7,94.1 L492.7,94.3 L493.7,94.5 L494.6,94.7 L495.6,94.9 L496.6,95.1 L497.6,95.4 L498.5,95.6 L499.5,95.9 L500.5,96.2 L501.4,96.5 L502.3,96.8 L503.3,97.2 L504.2,97.6 L505.1,98.0 L506.0,98.4 L506.9,98.8 L507.8,99.3 L508.7,99.7 L509.6,100.2 L510.5,100.6 L511.4,101.1 L512.3,101.6 L513.2,102.0 L514.0,102.5 L514.9,102.9 L515.8,103.4 L516.7,103.9 L517.6,104.3 L518.5,104.8 L519.4,105.2 L520.3,105.7 L521.1,106.2 L522.0,106.6 L522.9,107.1 L523.8,107.6 L524.6,108.1 L525.5,108.6 L526.3,109.1 L527.2,109.7 L528.0,110.2 L528.8,110.8 L529.7,111.4 L530.5,111.9 L531.3,112.5 L532.1,113.1 L532.9,113.7 L533.7,114.3 L534.5,114.9 L535.3,115.5 L536.1,116.1 L536.9,116.7 L537.7,117.3 L538.4,118.0 L539.2,118.6 L539.9,119.3 L540.7,120.0 L541.4,120.7 L542.1,121.4 L542.8,122.1 L543.5,122.8 L544.2,123.6 L544.8,124.3 L545.5,125.1 L546.1,125.9 L546.7,126.6 L547.3,127.4 L547.9,128.3 L548.5,129.1 L549.1,129.9 L549.6,130.7 L550.2,131.5 L550.7,132.4 L551.2,133.2 L551.8,134.1 L552.3,134.9 L552.8,135.8 L553.3,136.7 L553.7,137.6 L554.2,138.4 L554.7,139.3 L555.2,140.2 L555.6,141.1 L556.1,142.0 L556.5,142.9 L557.0,143.8 L557.4,144.7 L557.8,145.6 L558.2,146.5 L558.6,147.4 L559.0,148.3 L559.4,149.2 L559.8,150.2 L560.1,151.1 L560.5,152.0 L560.8,153.0 L561.1,153.9 L561.4,154.9 L561.7,155.8 L562.0,156.8 L562.3,157.8 L562.5,158.7 L562.7,159.7 L563.0,160.7 L563.2,161.7 L563.3,162.6 L563.5,163.6 L563.6,164.6 L563.7,165.6 L563.7,166.6 L563.7,167.6 L563.6,168.6 L563.6,169.6 L563.4,170.6 L563.3,171.6 L563.1,172.6 L562.9,173.5 L562.6,174.5 L562.3,175.4 L562.0,176.4 L561.7,177.3 L561.4,178.2 L561.2,178.6" stroke="#ffa500"/>
<path d="M404.5,245.2 L403.9,244.4 L403.4,243.5 L402.8,242.7 L402.3,241.9 L401.7,241.0 L401.2,240.2 L400.7,239.3 L400.2,238.5 L399.7,237.6 L399.3,236.7 L398.9,235.8 L398.5,234.9 L398.1,233.9 L397.7,233.0 L397.4,232.1 L397.1,231.1 L396.7,230.2 L396.4,229.2 L396.1,228.3 L395.9,227.3 L395.6,226.3 L395.4,225.4 L395.2,224.4 L394.9,223.4 L394.8,222.4 L394.6,221.5 L394.4,220.5 L394.2,219.5 L394.1,218.5 L393.9,217.5 L393.8,216.5 L393.6,215.5 L393.5,214.5 L393.4,213.5 L393.3,212.5 L393.2,211.6 L393.1,210.6 L393.0,209.6 L392.9,208.6 L392.8,207.6 L392.7,206.6 L392.6,205.6 L392.6,204.6 L392.5,203.6 L392.4,202.6 L392.4,201.6 L392.3,200.6 L392.3,199.6 L392.2,198.6 L392.2,197.6 L392.2,196.6 L392.1,195.6 L392.1,194.6 L392.1,193.6 L392.1,192.6 L392.1,191.6 L392.1,190.6 L392.1,189.6 L392.1,188.6 L392.1,187.6 L392.1,186.6 L392.1,185.6 L392.1,184.6 L392.1,183.6 L392.2,182.6 L392.2,181.6 L392.2,180.6 L392.2,179.6 L392.3,178.6 L392.3,177.6 L392.4,176.6 L392.4,175.6 L392.5,174.6 L392.5,173.6 L392.6,172.6 L392.7,171.6 L392.7,170.6 L392.8,169.6 L392.9,168.6 L393.0,167.6 L393.1,166.6 L393.2,165.6 L393.3,164.6 L393.4,163.6 L393.5,162.7 L393.7,161.7 L393.8,160.7 L394.0,159.7 L394.2,158.7 L394.4,157.7 L394.6,156.8 L394.8,155.8 L395.1,154.8 L395.3,153.8 L395.6,152.9 L395.8,151.9 L396.1,150.9 L396.4,150.0 L396.7,149.0 L397.0,148.1 L397.3,147.1 L397.6,146.2 L397.9,145.2 L398.2,144.3 L398.6,143.3 L398.9,142.4 L399.2,141.4 L399.5,140.5 L399.8,139.5 L400.1,138.6 L400.4,137.6 L400.7,136.7 L401.0,135.7 L401.3,134.8 L401.6,133.8 L401.9,132.9 L402.3,131.9 L402.6,131.0 L402.9,130.0 L403.2,129.1 L403.5,128.1 L403.9,127.2 L404.2,126.2 L404.5,125.3 L404.9,124.4 L405.3,123.4 L405.6,122.5 L406.0,121.6 L406.5,120.7 L406.9,119.8 L407.3,118.9 L407.8,118.0 L408.3,117.1 L408.8,116.3 L409.3,115.4 L409.8,114.6 L410.4,113.7 L411.0,112.9 L411.5,112.1 L412.2,111.3 L412.8,110.5 L413.4,109.8 L414.1,109.0 L414.8,108.3 L415.4,107.5 L416.1,106.8 L416.8,106.1 L417.6,105.4 L418.3,104.7 L419.0,104.1 L419.7,103.4 L420.5,102.7 L421.3,102.1 L422.0,101.4 L422.8,100.8 L423.6,100.2 L424.4,99.6 L425.2,99.0 L426.0,98.4 L426.8,97.8 L427.6,97.2 L428.4,96.6 L429.3,96.1 L430.1,95.6 L431.0,95.1 L431.9,94.7 L432.8,94.3 L433.7,93.9 L434.7,93.6 L435.6,93.3 L436.6,93.0 L437.6,92.8 L438.5,92.6 L439.5,92.4 L440.5,92.3 L441.5,92.1 L442.5,92.0 L443.5,91.9 L444.5,91.7 L445.5,91.6 L446.5,91.5 L447.4,91.4 L448.4,91.3 L449.4,91.2 L450.4,91.2 L451.4,91.1 L452.4,91.0 L453.4,91.0 L454.4,90.9 L455.4,90.9 L456.4,90.8 L457.4,90.8 L458.4,90.8 L459.4,90.8 L460.4,90.8 L461.4,90.8 L462.4,90.8 L463.4,90.8 L464.4,90.8 L465.4,90.8 L466.4,90.9 L467.4,90.9 L468.4,91.0 L469.4,91.1 L470.4,91.2 L471.4,91.3 L472.4,91.4 L473.4,91.5 L474.4,91.6 L475.4,91.7 L476.4,91.8 L477.4,91.8 L478.4,91.9 L479.4,92.0 L480.4,92.1 L481.4,92.1 L482.4,92.2 L483.4,92.3 L484.4,92.3 L485.4,92.4 L486.4,92.5 L487.3,92.6 L488.3,92.7 L489.3,92.9 L490.3,93.0 L491.3,93.2 L492.3,93.5 L493.2,93.7 L494.2,94.0 L495.1,94.3 L496.1,94.7 L497.0,95.0 L497.9,95.4 L498.9,95.7 L499.8,96.1 L500.7,96.5 L501.6,96.9 L502.6,97.3 L503.5,97.7 L504.4,98.1 L505.3,98.4 L506.3,98.8 L507.2,99.2 L508.1,99.6 L509.0,100.0 L509.9,100.4 L510.9,100.7 L511.8,101.1 L512.7,101.5 L513.6,101.9 L514.5,102.3 L515.5,102.7 L516.4,103.1 L517.3,103.6 L518.2,104.0 L519.1,104.5 L519.9,105.0 L520.7,105.5 L521.5,106.1 L522.3,106.7 L523.0,107.4 L523.7,108.2 L524.2,109.0 L524.8,109.8 L525.2,110.7 L525.6,111.6 L525.8,112.5 L526.0,113.5 L526.2,114.5 L526.2,115.4 L526.3,116.4 L526.3,117.3 L526.3,117.8" stroke="#ffff00"/>
<path d="M404.5,245.2 L404.2,244.3 L403.8,243.3 L403.5,242.4 L403.1,241.4 L402.8,240.5 L402.4,239.6 L402.1,238.6 L401.7,237.7 L401.4,236.8 L401.1,235.8 L400.7,234.9 L400.3,233.9 L400.0,233.0 L399.7,232.1 L399.3,231.1 L399.0,230.2 L398.7,229.2 L398.4,228.3 L398.2,227.3 L397.9,226.3 L397.7,225.4 L397.5,224.4 L397.4,223.4 L397.2,222.4 L397.1,221.4 L397.0,220.4 L396.9,219.4 L396.8,218.4 L396.7,217.4 L396.7,216.4 L396.6,215.4 L396.5,214.4 L396.5,213.4 L396.4,212.4 L396.4,211.4 L396.3,210.4 L396.3,209.4 L396.3,208.4 L396.3,207.4 L396.3,206.4 L396.3,205.4 L396.3,204.4 L396.3,203.4 L396.3,202.4 L396.3,201.4 L396.3,200.4 L396.3,199.4 L396.3,198.4 L396.3,197.4 L396.3,196.4 L396.3,195.4 L396.3,194.4 L396.4,193.4 L396.4,192.4 L396.4,191.4 L396.4,190.4 L396.5,189.4 L396.5,188.4 L396.5,187.4 L396.6,186.4 L396.6,185.4 L396.7,184.4 L396.7,183.4 L396.8,182.4 L396.9,181.4 L396.9,180.5 L397.0,179.5 L397.1,178.5 L397.2,177.5 L397.2,176.5 L397.4,175.5 L397.5,174.5 L397.6,173.5 L397.7,172.5 L397.9,171.5 L398.0,170.5 L398.2,169.5 L398.4,168.5 L398.6,167.6 L398.7,166.6 L398.9,165.6 L399.2,164.6 L399.4,163.7 L399.6,162.7 L399.8,161.7 L400.1,160.7 L400.3,159.8 L400.6,158.8 L400.9,157.8 L401.1,156.9 L401.4,155.9 L401.7,155.0 L402.0,154.0 L402.3,153.0 L402.6,152.1 L402.9,151.1 L403.2,150.2 L403.5,149.2 L403.8,148.3 L404.1,147.3 L404.4,146.4 L404.7,145.4 L405.0,144.5 L405.3,143.5 L405.6,142.6 L405.9,141.6 L406.2,140.6 L406.4,139.7 L406.7,138.7 L407.0,137.8 L407.3,136.8 L407.6,135.9 L408.0,134.9 L408.4,134.0 L408.8,133.1 L409.2,132.2 L409.6,131.3 L410.1,130.4 L410.5,129.5 L411.0,128.6 L411.5,127.7 L412.0,126.9 L412.4,126.0 L412.9,125.1 L413.4,124.3 L413.9,123.4 L414.5,122.5 L415.0,121.7 L415.5,120.8 L416.0,120.0 L416.6,119.1 L417.1,118.3 L417.6,117.5 L418.2,116.6 L418.8,115.8 L419.3,115.0 L419.9,114.1 L420.5,113.3 L421.1,112.5 L421.7,111.7 L422.3,110.9 L422.9,110.2 L423.5,109.4 L424.2,108.6 L424.8,107.8 L425.4,107.0 L426.0,106.3 L426.6,105.5 L427.3,104.7 L427.9,103.9 L428.5,103.1 L429.1,102.4 L429.8,101.6 L430.4,100.8 L431.1,100.1 L431.8,99.3 L432.5,98.6 L433.2,97.9 L433.9,97.2 L434.7,96.6 L435.4,96.0 L436.2,95.4 L437.0,94.8 L437.8,94.1 L438.6,93.5 L439.4,92.9 L440.2,92.3 L441.0,91.7 L441.8,91.2 L442.6,90.6 L443.5,90.1 L444.4,89.6 L445.3,89.2 L446.2,88.7 L447.1,88.4 L448.0,88.0 L449.0,87.7 L449.9,87.4 L450.9,87.1 L451.9,86.9 L452.8,86.6 L453.8,86.4 L454.8,86.2 L455.7,86.0 L456.7,85.8 L457.7,85.6 L458.7,85.4 L459.7,85.2 L460.7,85.1 L461.7,85.0 L462.6,84.8 L463.6,84.7 L464.6,84.7 L465.6,84.6 L466.6,84.6 L467.6,84.5 L468.6,84.5 L469.6,84.5 L470.6,84.5 L471.6,84.6 L472.6,84.6 L473.6,84.7 L474.6,84.7 L475.6,84.8 L476.6,84.9 L477.6,85.0 L478.6,85.1 L479.6,85.2 L480.6,85.3 L481.6,85.5 L482.5,85.7 L483.5,86.0 L484.5,86.2 L485.4,86.5 L486.4,86.8 L487.3,87.1 L488.3,87.4 L489.2,87.7 L490.2,88.0 L491.2,88.3 L492.1,88.6 L493.1,88.9 L494.0,89.2 L495.0,89.5 L495.9,89.8 L496.9,90.1 L497.9,90.3 L498.8,90.6 L499.8,90.9 L500.7,91.2 L501.7,91.5 L502.6,91.8 L503.6,92.1 L504.5,92.4 L505.5,92.8 L506.4,93.1 L507.4,93.4 L508.3,93.8 L509.2,94.2 L510.1,94.5 L511.1,95.0 L512.0,95.4 L512.9,95.8 L513.7,96.3 L514.6,96.8 L515.5,97.2 L516.4,97.7 L517.2,98.2 L518.1,98.7 L519.0,99.3 L519.8,99.8 L520.6,100.3 L521.5,100.9 L522.3,101.4 L523.1,102.0 L524.0,102.6 L524.8,103.1 L525.6,103.7 L526.4,104.3 L527.2,104.9 L528.0,105.5 L528.8,106.1 L529.5,106.8 L530.3,107.4 L531.0,108.1 L531.8,108.8 L532.5,109.5 L533.2,110.2 L533.9,110.9 L534.5,111.7 L535.2,112.4 L535.9,113.2 L536.5,113.9 L537.1,114.7 L537.7,115.5 L538.4,116.3 L539.0,117.1 L539.5,117.9 L540.1,118.7 L540.7,119.5 L541.2,120.4 L541.8,121.2 L542.3,122.0 L542.9,122.9 L543.4,123.7 L543.9,124.6 L544.5,125.4 L545.0,126.3 L545.5,127.2 L545.9,128.0 L546.4,128.9 L546.9,129.8 L547.3,130.7 L547.7,131.6 L548.1,132.5 L548.5,133.5 L548.9,134.4 L549.2,135.3 L549.6,136.3 L549.9,137.2 L550.2,138.1 L550.5,139.1 L550.8,140.1 L551.0,141.0 L551.2,142.0 L551.3,143.0 L551.4,144.0 L551.4,144.9 L551.4,145.8 L551.4,146.6 L551.4,147.0" stroke="#00ff00"/>
<path d="M404.5,245.2 L404.2,244.2 L403.9,243.3 L403.6,242.3 L403.3,241.4 L403.1,240.4 L402.8,239.5 L402.5,238.5 L402.2,237.6 L401.8,236.6 L401.5,235.7 L401.2,234.7 L400.8,233.8 L400.5,232.8 L400.2,231.9 L399.8,231.0 L399.5,230.0 L399.2,229.0 L398.9,228.1 L398.7,227.1 L398.5,226.1 L398.3,225.2 L398.1,224.2 L398.0,223.2 L397.9,222.2 L397.8,221.2 L397.7,220.2 L397.6,219.2 L397.5,218.2 L397.5,217.2 L397.4,216.2 L397.4,215.2 L397.3,214.2 L397.3,213.2 L397.2,212.2 L397.2,211.2 L397.2,210.2 L397.1,209.2 L397.1,208.2 L397.1,207.2 L397.1,206.2 L397.1,205.2 L397.1,204.2 L397.1,203.2 L397.1,202.2 L397.2,201.2 L397.2,200.2 L397.2,199.2 L397.2,198.2 L397.2,197.2 L397.2,196.2 L397.2,195.2 L397.2,194.2 L397.2,193.2 L397.3,192.2 L397.3,191.2 L397.3,190.2 L397.3,189.2 L397.3,188.2 L397.4,187.2 L397.4,186.2 L397.4,185.2 L397.5,184.2 L397.5,183.2 L397.6,182.2 L397.6,181.2 L397.7,180.2 L397.8,179.2 L397.8,178.2 L397.9,177.2 L398.0,176.2 L398.1,175.3 L398.2,174.3 L398.3,173.3 L398.4,172.3 L398.5,171.3 L398.6,170.3 L398.8,169.3 L398.9,168.3 L399.1,167.3 L399.2,166.3 L399.4,165.3 L399.6,164.4 L399.8,163.4 L400.0,162.4 L400.2,161.4 L400.4,160.5 L400.7,159.5 L401.0,158.5 L401.2,157.6 L401.5,156.6 L401.8,155.6 L402.1,154.7 L402.4,153.7 L402.7,152.8 L403.0,151.8 L403.2,150.9 L403.5,149.9 L403.8,149.0 L404.1,148.0 L404.4,147.0 L404.7,146.1 L405.0,145.1 L405.3,144.2 L405.6,143.2 L405.9,142.3 L406.2,141.3 L406.5,140.4 L406.8,139.4 L407.1,138.5 L407.4,137.5 L407.8,136.6 L408.1,135.6 L408.5,134.7 L408.9,133.8 L409.3,132.9 L409.8,132.0 L410.3,131.1 L410.7,130.2 L411.2,129.4 L411.7,128.5 L412.1,127.6 L412.5,126.7 L412.9,125.8 L413.4,124.8 L413.8,123.9 L414.2,123.0 L414.6,122.1 L415.1,121.3 L415.6,120.4 L416.1,119.6 L416.7,118.8 L417.3,118.0 L417.9,117.2 L418.5,116.4 L419.1,115.6 L419.7,114.7 L420.2,113.9 L420.8,113.1 L421.4,112.2 L421.9,111.4 L422.5,110.6 L423.0,109.7 L423.6,108.9 L424.1,108.1 L424.7,107.2 L425.2,106.4 L425.7,105.6 L426.3,104.7 L426.9,103.9 L427.4,103.1 L428.0,102.3 L428.6,101.4 L429.2,100.7 L429.8,99.9 L430.4,99.1 L431.1,98.3 L431.7,97.6 L432.4,96.8 L433.0,96.1 L433.7,95.3 L434.4,94.6 L435.1,93.9 L435.8,93.2 L436.6,92.5 L437.3,91.9 L438.1,91.3 L438.9,90.7 L439.7,90.1 L440.6,89.6 L441.4,89.0 L442.1,88.3 L442.9,87.7 L443.7,87.2 L444.6,86.6 L445.4,86.1 L446.3,85.6 L447.2,85.1 L448.1,84.7 L449.0,84.3 L449.9,83.9 L450.8,83.5 L451.7,83.1 L452.7,82.8 L453.6,82.4 L454.5,82.1 L455.5,81.7 L456.4,81.4 L457.4,81.1 L458.3,80.8 L459.3,80.5 L460.3,80.3 L461.2,80.0 L462.2,79.8 L463.2,79.5 L464.1,79.3 L465.1,79.1 L466.1,78.9 L467.1,78.7 L468.1,78.5 L469.1,78.3 L470.0,78.2 L471.0,78.0 L472.0,77.9 L473.0,77.8 L474.0,77.7 L475.0,77.6 L476.0,77.6 L477.0,77.6 L478.0,77.6 L479.0,77.7 L480.0,77.8 L481.0,77.9 L482.0,78.1 L482.9,78.3 L483.9,78.5 L484.9,78.7 L485.8,79.0 L486.8,79.3 L487.8,79.5 L488.7,79.8 L489.7,80.1 L490.6,80.4 L491.6,80.7 L492.6,80.9 L493.5,81.2 L494.5,81.5 L495.4,81.8 L496.4,82.1 L497.4,82.4 L498.3,82.6 L499.3,82.9 L500.2,83.2 L501.2,83.5 L502.1,83.8 L503.1,84.1 L504.0,84.4 L505.0,84.8 L505.9,85.1 L506.9,85.5 L507.8,85.8 L508.7,86.2 L509.6,86.6 L510.5,87.0 L511.4,87.5 L512.3,87.9 L513.2,88.4 L514.1,88.9 L514.9,89.4 L515.8,89.9 L516.7,90.4 L517.5,90.9 L518.4,91.4 L519.3,91.9 L520.1,92.4 L521.0,92.9 L521.8,93.5 L522.7,94.0 L523.5,94.6 L524.3,95.1 L525.2,95.7 L526.0,96.2 L526.8,96.8 L527.6,97.4 L528.4,98.0 L529.2,98.6 L529.9,99.3 L530.7,99.9 L531.5,100.6 L532.2,101.3 L532.9,101.9 L533.6,102.6 L534.4,103.3 L535.1,104.0 L535.8,104.8 L536.5,105.5 L537.2,106.2 L537.8,106.9 L538.5,107.6 L539.2,108.4 L539.9,109.1 L540.6,109.9 L541.2,110.6 L541.9,111.4 L542.5,112.1 L543.1,112.9 L543.7,113.7 L544.3,114.5 L544.9,115.3 L545.5,116.2 L546.0,117.0 L546.6,117.8 L547.1,118.7 L547.7,119.5 L548.2,120.4 L548.7,121.2 L549.1,122.1 L549.6,123.0 L550.0,123.9 L550.5,124.8 L550.9,125.7 L551.3,126.6 L551.7,127.5 L552.1,128.4 L552.6,129.3 L553.0,130.3 L553.4,131.2 L553.7,132.1 L554.1,133.0 L554.4,134.0 L554.7,134.9 L555.0,135.9 L555.2,136.9 L555.4,137.8 L555.5,138.8 L555.7,139.8 L555.8,140.8 L555.9,141.8 L556.0,142.8 L556.1,143.8 L556.1,144.8 L556.2,145.8 L556.2,146.8 L556.2,147.8 L556.3,148.8 L556.3,149.8 L556.3,150.8 L556.3,151.8 L556.3,152.8 L556.2,153.8 L556.2,154.8 L556.2,155.8 L556.1,156.8 L556.1,157.8 L556.1,158.7 L556.0,159.7 L556.0,160.2" stroke="#00eeee"/>
<path d="M404.5,245.2 L404.3,244.2 L404.0,243.3 L403.8,242.3 L403.5,241.3 L403.3,240.4 L403.0,239.4 L402.8,238.4 L402.5,237.5 L402.2,236.5 L401.9,235.5 L401.6,234.6 L401.3,233.6 L401.0,232.7 L400.7,231.7 L400.4,230.8 L400.1,229.8 L399.8,228.9 L399.6,227.9 L399.3,226.9 L399.1,226.0 L399.0,225.0 L398.8,224.0 L398.7,223.0 L398.6,222.0 L398.5,221.0 L398.4,220.0 L398.3,219.0 L398.3,218.0 L398.2,217.0 L398.2,216.0 L398.1,215.0 L398.1,214.0 L398.0,213.0 L398.0,212.0 L398.0,211.0 L398.0,210.0 L398.0,209.0 L398.0,208.0 L398.0,207.0 L398.0,206.0 L398.1,205.0 L398.1,204.0 L398.1,203.0 L398.2,202.0 L398.2,201.0 L398.3,200.0 L398.3,199.0 L398.4,198.0 L398.5,197.0 L398.5,196.0 L398.6,195.0 L398.7,194.0 L398.8,193.0 L398.9,192.0 L399.0,191.0 L399.1,190.1 L399.2,189.1 L399.3,188.1 L399.4,187.1 L399.5,186.1 L399.6,185.1 L399.7,184.1 L399.9,183.1 L400.0,182.1 L400.1,181.1 L400.3,180.1 L400.4,179.1 L400.5,178.1 L400.7,177.2 L400.8,176.2 L401.0,175.2 L401.2,174.2 L401.4,173.2 L401.6,172.2 L401.8,171.3 L402.0,170.3 L402.2,169.3 L402.4,168.3 L402.6,167.4 L402.9,166.4 L403.1,165.4 L403.4,164.5 L403.7,163.5 L404.0,162.5 L404.3,161.6 L404.6,160.6 L405.0,159.7 L405.3,158.8 L405.7,157.8 L406.1,156.9 L406.4,156.0 L406.8,155.1 L407.2,154.2 L407.6,153.2 L408.0,152.3 L408.4,151.4 L408.8,150.5 L409.1,149.5 L409.5,148.6 L409.8,147.7 L410.2,146.7 L410.5,145.8 L410.9,144.8 L411.2,143.9 L411.5,143.0 L411.9,142.0 L412.2,141.1 L412.6,140.1 L412.9,139.2 L413.3,138.3 L413.7,137.3 L414.0,136.4 L414.4,135.5 L414.8,134.6 L415.1,133.6 L415.5,132.7 L415.9,131.8 L416.4,130.9 L416.8,130.0 L417.3,129.1 L417.8,128.2 L418.3,127.4 L418.8,126.6 L419.4,125.8 L420.1,125.0 L420.7,124.2 L421.4,123.5 L422.0,122.8 L422.7,122.0 L423.4,121.3 L424.1,120.6 L424.8,119.9 L425.5,119.2 L426.2,118.5 L426.9,117.8 L427.7,117.1 L428.4,116.4 L429.1,115.7 L429.8,115.0 L430.5,114.2 L431.2,113.5 L431.8,112.8 L432.5,112.0 L433.1,111.2 L433.8,110.5 L434.4,109.7 L435.1,109.0 L435.8,108.3 L436.5,107.6 L437.3,106.9 L438.0,106.2 L438.7,105.5 L439.4,104.8 L440.1,104.1 L440.8,103.4 L441.5,102.7 L442.2,102.0 L442.9,101.3 L443.7,100.7 L444.5,100.1 L445.4,99.6 L446.2,99.1 L447.1,98.7 L448.0,98.2 L448.9,97.8 L449.8,97.4 L450.7,97.0 L451.7,96.6 L452.6,96.2 L453.5,95.8 L454.5,95.5 L455.4,95.2 L456.4,94.9 L457.3,94.7 L458.3,94.4 L459.3,94.2 L460.3,94.0 L461.2,93.9 L462.2,93.7 L463.2,93.6 L464.2,93.4 L465.2,93.3 L466.2,93.2 L467.2,93.1 L468.2,93.0 L469.2,92.9 L470.2,92.8 L471.2,92.7 L472.2,92.7 L473.2,92.6 L474.2,92.6 L475.2,92.6 L476.2,92.6 L477.2,92.7 L478.2,92.8 L479.2,92.8 L480.2,92.9 L481.1,93.1 L482.1,93.2 L483.1,93.3 L484.1,93.5 L485.1,93.6 L486.1,93.8 L487.1,93.9 L488.1,94.1 L489.1,94.2 L490.0,94.4 L491.0,94.6 L492.0,94.7 L493.0,94.9 L494.0,95.1 L495.0,95.3 L495.9,95.5 L496.9,95.7 L497.9,96.0 L498.9,96.2 L499.8,96.5 L500.8,96.8 L501.7,97.1 L502.7,97.4 L503.6,97.7 L504.6,98.0 L505.5,98.4 L506.4,98.7 L507.4,99.1 L508.3,99.5 L509.2,99.9 L510.1,100.3 L511.0,100.7 L511.9,101.2 L512.8,101.6 L513.7,102.1 L514.6,102.6 L515.4,103.1 L516.3,103.6 L517.2,104.1 L518.0,104.6 L518.9,105.1 L519.7,105.6 L520.6,106.1 L521.5,106.6 L522.3,107.1 L523.2,107.7 L524.0,108.2 L524.8,108.8 L525.7,109.3 L526.5,109.9 L527.3,110.4 L528.2,111.0 L529.0,111.6 L529.8,112.2 L530.6,112.7 L531.4,113.3 L532.3,113.8 L533.1,114.4 L533.9,114.9 L534.8,115.5 L535.6,116.1 L536.4,116.6 L537.3,117.2 L538.1,117.8 L538.9,118.3 L539.7,118.9 L540.5,119.5 L541.3,120.2 L542.0,120.8 L542.8,121.4 L543.6,122.1 L544.3,122.7 L545.1,123.4 L545.8,124.0 L546.6,124.7 L547.4,125.3 L548.1,126.0 L548.9,126.6 L549.7,127.2 L550.4,127.9 L551.2,128.6 L551.9,129.2 L552.6,129.9 L553.3,130.6 L554.0,131.4 L554.6,132.1 L555.3,132.9 L555.9,133.7 L556.4,134.6 L557.0,135.4 L557.5,136.2 L558.0,137.1 L558.5,138.0 L559.0,138.9 L559.4,139.7 L559.8,140.6 L560.2,141.6 L560.6,142.5 L561.0,143.4 L561.4,144.3 L561.8,145.2 L562.2,146.2 L562.5,147.1 L562.9,148.1 L563.2,149.0 L563.5,149.9 L563.8,150.9 L564.1,151.8 L564.4,152.8 L564.7,153.8 L564.9,154.7 L565.2,155.7 L565.4,156.7 L565.6,157.6 L565.8,158.6 L566.0,159.6 L566.2,160.6 L566.4,161.6 L566.5,162.6 L566.6,163.6 L566.6,164.6 L566.6,165.5 L566.5,166.5 L566.5,167.5 L566.4,168.5 L566.3,169.5 L566.1,170.5 L566.0,171.5 L565.8,172.5 L565.7,173.5 L565.5,174.5 L565.3,175.4 L565.1,176.4 L564.9,177.4 L564.6,178.4 L564.4,179.3 L564.1,180.3 L563.9,181.3 L563.6,182.2 L563.3,183.2 L563.1,184.1 L562.8,185.1" stroke="#0000ff"/>
<path d="M404.5,245.2 L404.2,244.2 L404.0,243.3 L403.7,242.3 L403.4,241.3 L403.2,240.4 L402.9,239.4 L402.6,238.5 L402.3,237.5 L402.0,236.5 L401.7,235.6 L401.4,234.6 L401.1,233.7 L400.7,232.8 L400.4,231.8 L400.1,230.9 L399.8,229.9 L399.5,228.9 L399.3,228.0 L399.1,227.0 L398.9,226.0 L398.7,225.0 L398.6,224.1 L398.4,223.1 L398.3,222.1 L398.2,221.1 L398.1,220.1 L398.1,219.1 L398.0,218.1 L398.0,217.1 L397.9,216.1 L397.9,215.1 L397.9,214.1 L397.8,213.1 L397.8,212.1 L397.8,211.1 L397.8,210.1 L397.8,209.1 L397.8,208.1 L397.8,207.1 L397.8,206.1 L397.8,205.1 L397.9,204.1 L397.9,203.1 L397.9,202.1 L398.0,201.1 L398.0,200.1 L398.1,199.1 L398.1,198.1 L398.1,197.1 L398.2,196.1 L398.2,195.1 L398.3,194.1 L398.3,193.1 L398.4,192.1 L398.4,191.1 L398.5,190.1 L398.6,189.1 L398.6,188.1 L398.7,187.1 L398.8,186.1 L398.9,185.1 L399.0,184.1 L399.1,183.1 L399.2,182.1 L399.3,181.1 L399.4,180.2 L399.6,179.2 L399.7,178.2 L399.8,177.2 L400.0,176.2 L400.1,175.2 L400.3,174.2 L400.4,173.2 L400.6,172.2 L400.8,171.3 L401.0,170.3 L401.1,169.3 L401.3,168.3 L401.5,167.3 L401.8,166.4 L402.0,165.4 L402.2,164.4 L402.5,163.4 L402.8,162.5 L403.1,161.5 L403.4,160.6 L403.7,159.6 L404.0,158.7 L404.3,157.7 L404.6,156.8 L405.0,155.8 L405.3,154.9 L405.6,153.9 L405.9,153.0 L406.2,152.0 L406.5,151.1 L406.9,150.1 L407.2,149.2 L407.5,148.3 L407.9,147.3 L408.2,146.4 L408.5,145.4 L408.9,144.5 L409.2,143.6 L409.6,142.6 L409.9,141.7 L410.3,140.8 L410.7,139.8 L411.1,138.9 L411.4,138.0 L411.8,137.1 L412.2,136.1 L412.6,135.2 L413.0,134.3 L413.5,133.4 L413.9,132.5 L414.3,131.6 L414.8,130.7 L415.2,129.8 L415.7,129.0 L416.2,128.1 L416.7,127.2 L417.3,126.4 L417.9,125.6 L418.4,124.8 L419.1,124.0 L419.7,123.2 L420.3,122.4 L421.0,121.7 L421.6,120.9 L422.3,120.2 L422.9,119.4 L423.6,118.7 L424.3,117.9 L425.0,117.2 L425.6,116.5 L426.3,115.7 L427.0,115.0 L427.7,114.3 L428.3,113.5 L429.0,112.7 L429.6,111.9 L430.2,111.2 L430.8,110.4 L431.4,109.6 L432.0,108.8 L432.7,108.0 L433.3,107.3 L434.1,106.6 L434.8,106.0 L435.6,105.4 L436.4,104.7 L437.2,104.1 L437.9,103.5 L438.7,102.8 L439.4,102.2 L440.2,101.5 L440.9,100.8 L441.7,100.2 L442.5,99.5 L443.3,99.0 L444.1,98.4 L445.0,97.9 L445.8,97.5 L446.7,97.0 L447.6,96.6 L448.6,96.2 L449.5,95.8 L450.4,95.5 L451.3,95.1 L452.3,94.7 L453.2,94.4 L454.2,94.1 L455.1,93.8 L456.1,93.6 L457.1,93.3 L458.0,93.1 L459.0,92.9 L460.0,92.7 L461.0,92.5 L462.0,92.4 L463.0,92.2 L463.9,92.1 L464.9,91.9 L465.9,91.8 L466.9,91.7 L467.9,91.6 L468.9,91.5 L469.9,91.4 L470.9,91.4 L471.9,91.3 L472.9,91.3 L473.9,91.3 L474.9,91.3 L475.9,91.3 L476.9,91.4 L477.9,91.4 L478.9,91.5 L479.9,91.6 L480.9,91.8 L481.9,91.9 L482.9,92.0 L483.8,92.2 L484.8,92.3 L485.8,92.5 L486.8,92.7 L487.8,92.8 L488.8,93.0 L489.8,93.2 L490.7,93.4 L491.7,93.5 L492.7,93.7 L493.7,93.9 L494.7,94.2 L495.6,94.4 L496.6,94.6 L497.6,94.9 L498.5,95.1 L499.5,95.4 L500.5,95.7 L501.4,96.0 L502.4,96.3 L503.3,96.6 L504.2,97.0 L505.2,97.4 L506.1,97.8 L507.0,98.2 L507.9,98.6 L508.8,99.0 L509.7,99.5 L510.6,99.9 L511.5,100.4 L512.4,100.8 L513.3,101.3 L514.1,101.8 L515.0,102.2 L515.9,102.7 L516.8,103.1 L517.7,103.6 L518.6,104.0 L519.5,104.5 L520.4,105.0 L521.3,105.4 L522.1,105.9 L523.0,106.4 L523.9,106.9 L524.8,107.3 L525.6,107.8 L526.5,108.3 L527.3,108.9 L528.2,109.4 L529.0,109.9 L529.9,110.5 L530.7,111.0 L531.5,111.6 L532.4,112.2 L533.2,112.7 L534.0,113.3 L534.8,113.9 L535.6,114.5 L536.4,115.2 L537.1,115.8 L537.9,116.4 L538.6,117.1 L539.4,117.8 L540.1,118.5 L540.8,119.2 L541.5,119.9 L542.2,120.6 L542.9,121.3 L543.5,122.1 L544.2,122.8 L544.8,123.6 L545.5,124.4 L546.1,125.2 L546.7,126.0 L547.3,126.8 L547.8,127.6 L548.4,128.4 L549.0,129.3 L549.5,130.1 L550.1,130.9 L550.6,131.8 L551.1,132.6 L551.6,133.5 L552.1,134.4 L552.6,135.2 L553.0,136.1 L553.5,137.0 L553.9,137.9 L554.3,138.8 L554.8,139.7 L555.2,140.7 L555.5,141.6 L555.9,142.5 L556.3,143.4 L556.6,144.4 L557.0,145.3 L557.3,146.3 L557.6,147.2 L558.0,148.1 L558.3,149.1 L558.6,150.1 L558.8,151.0 L559.1,152.0 L559.3,153.0 L559.6,153.9 L559.8,154.9 L560.0,155.9 L560.1,156.9 L560.3,157.9 L560.5,158.8 L560.6,159.8 L560.7,160.8 L560.8,161.8 L560.9,162.8 L561.0,163.8 L561.1,164.8 L561.1,165.8 L561.1,166.8 L561.1,167.8 L561.0,168.8 L561.0,169.8 L560.9,170.8 L560.9,171.7 L560.8,172.6 L560.8,173.5 L560.7,174.3" stroke="#a020f0"/>
<path d="M404.5,245.2 L404.2,244.2 L404.0,243.3 L403.7,242.3 L403.4,241.3 L403.2,240.4 L402.9,239.4 L402.6,238.5 L402.3,237.5 L402.0,236.6 L401.7,235.6 L401.4,234.7 L401.0,233.7 L400.7,232.8 L400.4,231.8 L400.0,230.9 L399.7,229.9 L399.4,229.0 L399.1,228.0 L398.9,227.1 L398.7,226.1 L398.5,225.1 L398.3,224.1 L398.2,223.1 L398.0,222.1 L397.9,221.2 L397.8,220.2 L397.7,219.2 L397.7,218.2 L397.6,217.2 L397.5,216.2 L397.5,215.2 L397.4,214.2 L397.4,213.2 L397.3,212.2 L397.3,211.2 L397.3,210.2 L397.2,209.2 L397.2,208.2 L397.2,207.2 L397.2,206.2 L397.2,205.2 L397.2,204.2 L397.2,203.2 L397.3,202.2 L397.3,201.2 L397.3,200.2 L397.3,199.2 L397.3,198.2 L397.3,197.2 L397.3,196.2 L397.3,195.2 L397.3,194.2 L397.3,193.2 L397.3,192.2 L397.3,191.2 L397.3,190.2 L397.3,189.2 L397.4,188.2 L397.4,187.2 L397.4,186.2 L397.4,185.2 L397.5,184.2 L397.5,183.2 L397.5,182.2 L397.6,181.2 L397.6,180.2 L397.7,179.2 L397.7,178.2 L397.8,177.2 L397.9,176.2 L397.9,175.2 L398.0,174.2 L398.1,173.2 L398.1,172.2 L398.2,171.2 L398.3,170.2 L398.4,169.2 L398.5,168.2 L398.6,167.2 L398.7,166.2 L398.9,165.2 L399.0,164.3 L399.2,163.3 L399.4,162.3 L399.6,161.3 L399.8,160.3 L400.1,159.4 L400.3,158.4 L400.6,157.4 L400.9,156.5 L401.2,155.5 L401.4,154.6 L401.7,153.6 L402.0,152.6 L402.3,151.7 L402.6,150.7 L402.9,149.8 L403.2,148.8 L403.4,147.9 L403.7,146.9 L404.0,145.9 L404.3,145.0 L404.6,144.0 L404.8,143.1 L405.1,142.1 L405.4,141.1 L405.6,140.2 L405.9,139.2 L406.1,138.2 L406.4,137.3 L406.7,136.3 L407.1,135.4 L407.4,134.5 L407.8,133.5 L408.3,132.7 L408.8,131.8 L409.2,130.9 L409.7,130.0 L410.2,129.1 L410.7,128.3 L411.1,127.4 L411.5,126.5 L411.9,125.5 L412.4,124.6 L412.8,123.7 L413.2,122.8 L413.7,121.9 L414.1,121.1 L414.6,120.2 L415.1,119.3 L415.6,118.4 L416.1,117.6 L416.5,116.7 L417.0,115.8 L417.6,115.0 L418.1,114.1 L418.6,113.2 L419.1,112.4 L419.7,111.6 L420.2,110.7 L420.7,109.9 L421.3,109.0 L421.9,108.2 L422.4,107.4 L423.0,106.6 L423.6,105.7 L424.1,104.9 L424.7,104.1 L425.3,103.3 L425.9,102.5 L426.5,101.7 L427.0,100.9 L427.6,100.0 L428.2,99.2 L428.8,98.4 L429.4,97.6 L429.9,96.8 L430.5,96.0 L431.1,95.2 L431.7,94.4 L432.3,93.6 L432.9,92.8 L433.6,92.0 L434.3,91.3 L435.0,90.6 L435.7,89.9 L436.4,89.3 L437.2,88.6 L438.0,87.9 L438.7,87.3 L439.5,86.6 L440.2,86.0 L441.0,85.4 L441.8,84.7 L442.6,84.1 L443.4,83.5 L444.2,82.9 L445.0,82.3 L445.8,81.8 L446.6,81.2 L447.5,80.6 L448.3,80.1 L449.1,79.6 L450.0,79.0 L450.9,78.5 L451.7,78.1 L452.6,77.6 L453.5,77.2 L454.4,76.7 L455.3,76.3 L456.2,75.9 L457.2,75.6 L458.1,75.2 L459.0,74.8 L460.0,74.5 L460.9,74.2 L461.9,73.9 L462.8,73.6 L463.8,73.3 L464.8,73.1 L465.7,72.8 L466.7,72.6 L467.7,72.4 L468.7,72.2 L469.7,72.1 L470.7,71.9 L471.6,71.8 L472.6,71.7 L473.6,71.6 L474.6,71.5 L475.6,71.5 L476.6,71.4 L477.6,71.4 L478.6,71.4 L479.6,71.4 L480.6,71.5 L481.6,71.5 L482.6,71.6 L483.6,71.6 L484.6,71.7 L485.6,71.8 L486.6,71.9 L487.6,72.0 L488.6,72.1 L489.6,72.3 L490.6,72.4 L491.6,72.6 L492.5,72.7 L493.5,72.9 L494.5,73.1 L495.5,73.4 L496.4,73.6 L497.4,73.9 L498.4,74.1 L499.3,74.4 L500.3,74.7 L501.2,75.0 L502.2,75.3 L503.1,75.6 L504.1,75.9 L505.0,76.3 L506.0,76.6 L506.9,76.9 L507.8,77.3 L508.8,77.7 L509.7,78.0 L510.6,78.4 L511.5,78.8 L512.5,79.2 L513.3,79.7 L514.2,80.1 L515.1,80.6 L516.0,81.1 L516.9,81.6 L517.7,82.1 L518.6,82.6 L519.4,83.2 L520.2,83.7 L521.1,84.3 L521.9,84.8 L522.7,85.4 L523.6,86.0 L524.4,86.6 L525.2,87.1 L526.0,87.7 L526.8,88.4 L527.5,89.0 L528.3,89.6 L529.1,90.3 L529.8,90.9 L530.5,91.6 L531.3,92.3 L532.0,93.0 L532.7,93.7 L533.4,94.4 L534.1,95.1 L534.8,95.8 L535.5,96.6 L536.2,97.3 L536.8,98.0 L537.5,98.8 L538.2,99.5 L538.8,100.3 L539.5,101.0 L540.1,101.8 L540.7,102.6 L541.3,103.4 L541.9,104.2 L542.5,105.1 L543.0,105.9 L543.5,106.8 L544.0,107.6 L544.5,108.5 L544.9,109.4 L545.4,110.3 L545.8,111.2 L546.3,112.1 L546.7,113.0 L547.2,113.9 L547.6,114.7 L548.1,115.6 L548.5,116.5 L549.0,117.4 L549.4,118.3 L549.9,119.2 L550.3,120.1 L550.7,121.0 L551.2,121.9 L551.6,122.8 L552.0,123.7 L552.4,124.6 L552.9,125.5 L553.3,126.5 L553.7,127.4 L554.0,128.3 L554.4,129.2 L554.8,130.2 L555.1,131.1 L555.5,132.0 L555.8,133.0 L556.0,134.0 L556.3,134.9 L556.5,135.9 L556.7,136.9 L556.9,137.8 L557.1,138.8 L557.2,139.8 L557.3,140.8 L557.3,141.8 L557.3,142.8 L557.3,143.8 L557.3,144.8 L557.3,145.8 L557.2,146.8 L557.1,147.8 L557.0,148.8 L556.8,149.8 L556.7,150.8 L556.5,151.7 L556.3,152.7 L556.0,153.7 L555.8,154.6 L555.6,155.5 L555.4,156.3 L555.2,157.1" stroke="#ff00ff"/>
<path d="M404.5,245.2 L404.1,244.3 L403.8,243.3 L403.4,242.4 L403.0,241.5 L402.7,240.6 L402.3,239.6 L401.9,238.7 L401.6,237.8 L401.2,236.8 L400.9,235.9 L400.5,234.9 L400.2,234.0 L399.8,233.1 L399.5,232.1 L399.1,231.2 L398.8,230.2 L398.5,229.3 L398.2,228.3 L398.0,227.4 L397.7,226.4 L397.5,225.4 L397.4,224.4 L397.2,223.5 L397.1,222.5 L396.9,221.5 L396.8,220.5 L396.7,219.5 L396.6,218.5 L396.6,217.5 L396.5,216.5 L396.4,215.5 L396.3,214.5 L396.3,213.5 L396.2,212.5 L396.2,211.5 L396.2,210.5 L396.1,209.5 L396.1,208.5 L396.1,207.5 L396.1,206.5 L396.1,205.5 L396.1,204.5 L396.1,203.5 L396.1,202.5 L396.1,201.5 L396.1,200.5 L396.1,199.5 L396.1,198.5 L396.1,197.5 L396.1,196.5 L396.1,195.5 L396.1,194.5 L396.1,193.5 L396.1,192.5 L396.2,191.5 L396.2,190.5 L396.2,189.5 L396.2,188.5 L396.3,187.5 L396.3,186.5 L396.3,185.5 L396.4,184.5 L396.4,183.5 L396.5,182.5 L396.6,181.5 L396.6,180.5 L396.7,179.5 L396.8,178.5 L396.9,177.5 L396.9,176.5 L397.0,175.5 L397.2,174.5 L397.3,173.6 L397.4,172.6 L397.5,171.6 L397.7,170.6 L397.8,169.6 L398.0,168.6 L398.1,167.6 L398.3,166.6 L398.5,165.6 L398.7,164.7 L398.9,163.7 L399.1,162.7 L399.3,161.7 L399.5,160.8 L399.7,159.8 L400.0,158.8 L400.2,157.8 L400.5,156.9 L400.7,155.9 L401.0,154.9 L401.3,154.0 L401.5,153.0 L401.8,152.1 L402.1,151.1 L402.4,150.1 L402.7,149.2 L403.0,148.3 L403.4,147.3 L403.7,146.4 L404.0,145.4 L404.3,144.5 L404.6,143.5 L404.9,142.5 L405.2,141.6 L405.4,140.6 L405.7,139.7 L405.9,138.7 L406.2,137.7 L406.5,136.8 L406.8,135.8 L407.1,134.9 L407.5,134.0 L407.9,133.0 L408.3,132.1 L408.8,131.3 L409.3,130.4 L409.8,129.5 L410.2,128.6 L410.7,127.8 L411.2,126.9 L411.8,126.0 L412.3,125.2 L412.9,124.4 L413.5,123.6 L414.1,122.8 L414.7,122.0 L415.3,121.2 L415.9,120.4 L416.5,119.6 L417.1,118.8 L417.7,118.0 L418.2,117.2 L418.8,116.3 L419.3,115.5 L419.8,114.6 L420.3,113.8 L420.9,112.9 L421.4,112.1 L421.9,111.2 L422.4,110.3 L422.9,109.5 L423.4,108.6 L423.9,107.8 L424.4,106.9 L424.9,106.0 L425.5,105.2 L426.0,104.3 L426.5,103.5 L427.1,102.7 L427.7,101.9 L428.3,101.1 L428.9,100.3 L429.6,99.5 L430.3,98.8 L430.9,98.1 L431.6,97.4 L432.4,96.7 L433.1,96.0 L433.8,95.3 L434.6,94.6 L435.3,94.0 L436.1,93.4 L436.9,92.8 L437.7,92.2 L438.6,91.7 L439.4,91.2 L440.3,90.7 L441.2,90.2 L442.1,89.8 L443.0,89.4 L443.9,89.0 L444.8,88.6 L445.7,88.1 L446.6,87.7 L447.5,87.3 L448.4,86.8 L449.3,86.4 L450.2,86.0 L451.2,85.6 L452.1,85.2 L453.0,84.9 L454.0,84.6 L454.9,84.3 L455.9,84.1 L456.9,83.9 L457.9,83.6 L458.8,83.4 L459.8,83.2 L460.8,83.1 L461.8,82.9 L462.8,82.8 L463.8,82.7 L464.8,82.7 L465.8,82.6 L466.8,82.6 L467.8,82.6 L468.8,82.6 L469.8,82.7 L470.8,82.7 L471.8,82.7 L472.8,82.8 L473.8,82.8 L474.8,82.9 L475.8,82.9 L476.7,83.0 L477.7,83.1 L478.7,83.2 L479.7,83.3 L480.7,83.4 L481.7,83.6 L482.7,83.8 L483.7,83.9 L484.6,84.2 L485.6,84.4 L486.6,84.7 L487.6,84.9 L488.5,85.2 L489.5,85.5 L490.4,85.7 L491.4,86.0 L492.4,86.3 L493.3,86.5 L494.3,86.8 L495.3,87.1 L496.2,87.3 L497.2,87.6 L498.1,87.9 L499.1,88.2 L500.1,88.5 L501.0,88.7 L502.0,89.0 L502.9,89.3 L503.9,89.6 L504.8,89.9 L505.8,90.3 L506.7,90.6 L507.7,90.9 L508.6,91.3 L509.5,91.7 L510.4,92.1 L511.3,92.5 L512.2,93.0 L513.1,93.4 L514.0,93.9 L514.9,94.4 L515.7,94.9 L516.6,95.3 L517.5,95.8 L518.4,96.3 L519.2,96.8 L520.1,97.3 L520.9,97.9 L521.8,98.4 L522.6,99.0 L523.4,99.6 L524.2,100.2 L525.0,100.8 L525.8,101.4 L526.5,102.1 L527.3,102.7 L528.0,103.4 L528.8,104.0 L529.5,104.7 L530.3,105.4 L531.0,106.1 L531.7,106.8 L532.4,107.5 L533.1,108.2 L533.8,108.9 L534.5,109.6 L535.2,110.3 L535.9,111.1 L536.5,111.9 L537.1,112.7 L537.7,113.5 L538.2,114.3 L538.7,115.2 L539.2,116.0 L539.7,116.9 L540.2,117.8 L540.7,118.6 L541.1,119.5 L541.6,120.4 L542.0,121.3 L542.5,122.2 L543.0,123.1 L543.5,124.0 L543.9,124.8 L544.4,125.7 L544.9,126.6 L545.4,127.5 L545.9,128.3 L546.3,129.2 L546.8,130.1 L547.2,131.0 L547.6,131.9 L548.0,132.9 L548.3,133.8 L548.7,134.7 L549.0,135.7 L549.2,136.7 L549.5,137.6 L549.7,138.6 L549.9,139.6 L550.1,140.6 L550.2,141.5 L550.3,142.5 L550.4,143.5 L550.5,144.5 L550.5,145.5 L550.6,146.4 L550.6,147.3 L550.6,148.2 L550.6,148.6" stroke="#a52a2a"/>
</g>
<path d="M472.0,91.5 L473.0,91.6 L474.0,91.7 L475.0,91.8 L476.0,91.8 L477.0,91.9 L478.0,92.0 L479.0,92.1 L480.0,92.2 L481.0,92.3 L482.0,92.3 L483.0,92.4 L484.0,92.4 L485.0,92.5 L486.0,92.5 L487.0,92.6 L487.9,92.7 L488.9,92.9 L489.9,93.0 L490.9,93.2 L491.9,93.4 L492.8,93.7 L493.8,94.0 L494.7,94.3 L495.7,94.7 L496.6,95.0 L497.6,95.4 L498.5,95.8 L499.4,96.1 L500.3,96.5 L501.2,96.9 L502.2,97.3 L503.1,97.7 L504.0,98.1 L504.9,98.5 L505.9,98.9 L506.8,99.2 L507.7,99.6 L508.6,100.0 L509.5,100.4 L510.5,100.8 L511.4,101.2 L512.3,101.6 L513.2,102.0 L514.1,102.4 L515.1,102.8 L516.0,103.2 L516.9,103.6 L517.8,104.0 L518.7,104.4 L519.6,104.8 L520.4,105.2 L520.8,105.4" stroke="#ffff00" stroke-width="1.6" fill="none" stroke-dasharray="3 4"/>
<circle cx="484.60" cy="138.60" r="1.35" fill="#0a6e0a"/>
<circle cx="503.50" cy="139.30" r="1.35" fill="#0a6e0a"/>
<circle cx="516.30" cy="139.70" r="1.35" fill="#0a6e0a"/>
<circle cx="526.30" cy="140.20" r="1.35" fill="#0a6e0a"/>
<circle cx="546.10" cy="146.00" r="1.35" fill="#0a6e0a"/>
<circle cx="423.30" cy="192.60" r="1.35" fill="#0a6e0a"/>
<circle cx="433.50" cy="159.00" r="1.35" fill="#0a6e0a"/>
<circle cx="458.60" cy="142.00" r="1.35" fill="#0a6e0a"/>
<circle cx="409.50" cy="131.00" r="1.35" fill="#000000"/>
<circle cx="434.50" cy="109.40" r="1.35" fill="#000000"/>
<circle cx="443.30" cy="107.10" r="1.35" fill="#000000"/>
<circle cx="463.00" cy="105.50" r="1.35" fill="#000000"/>
<circle cx="487.80" cy="107.30" r="1.35" fill="#000000"/>
<circle cx="506.00" cy="110.60" r="1.35" fill="#000000"/>
<circle cx="525.20" cy="115.60" r="1.35" fill="#000000"/>
<circle cx="538.80" cy="123.00" r="1.35" fill="#000000"/>
<circle cx="546.00" cy="132.50" r="1.35" fill="#000000"/>
<circle cx="418.20" cy="127.20" r="1.35" fill="#ff0000"/>
<circle cx="481.30" cy="98.90" r="1.35" fill="#ff0000"/>
<circle cx="506.20" cy="105.00" r="1.35" fill="#ff0000"/>
<circle cx="413.10" cy="122.00" r="1.35" fill="#ff00ff"/>
<circle cx="440.00" cy="86.20" r="1.35" fill="#ff00ff"/>
<circle cx="469.50" cy="72.60" r="1.35" fill="#ff00ff"/>
<circle cx="496.60" cy="73.60" r="1.35" fill="#ff00ff"/>
<circle cx="519.50" cy="83.00" r="1.35" fill="#ff00ff"/>
<circle cx="479.70" cy="77.90" r="1.35" fill="#00eeee"/>
<circle cx="504.60" cy="84.50" r="1.35" fill="#00eeee"/>
<circle cx="437.30" cy="92.60" r="1.35" fill="#a52a2a"/>
<circle cx="464.50" cy="82.60" r="1.35" fill="#a52a2a"/>
<circle cx="489.30" cy="85.40" r="1.35" fill="#a52a2a"/>
<circle cx="489.00" cy="88.00" r="1.35" fill="#00ff00"/>
<circle cx="459.50" cy="91.10" r="1.35" fill="#ffff00"/>
<circle cx="478.20" cy="92.20" r="1.35" fill="#ffff00"/>
<circle cx="487.90" cy="93.60" r="1.35" fill="#ffa500"/>
<circle cx="434.30" cy="108.80" r="1.35" fill="#ffa500"/>
<circle cx="562.8" cy="185.1" r="1.4" fill="#0000ff"/>
<rect x="356.80" y="6.35" width="238.35" height="238.85" fill="none" stroke="#909090" stroke-width="1.60"/>
<path d="M356.80,245.20L356.80,251.00 M356.80,6.35L356.80,0.55 M404.47,245.20L404.47,251.00 M404.47,6.35L404.47,0.55 M452.14,245.20L452.14,251.00 M452.14,6.35L452.14,0.55 M499.81,245.20L499.81,251.00 M499.81,6.35L499.81,0.55 M547.48,245.20L547.48,251.00 M547.48,6.35L547.48,0.55 M595.15,245.20L595.15,251.00 M595.15,6.35L595.15,0.55 M356.80,245.20L351.00,245.20 M595.15,245.20L600.95,245.20 M356.80,185.49L351.00,185.49 M595.15,185.49L600.95,185.49 M356.80,125.77L351.00,125.77 M595.15,125.77L600.95,125.77 M356.80,66.06L351.00,66.06 M595.15,66.06L600.95,66.06 M356.80,6.35L351.00,6.35 M595.15,6.35L600.95,6.35" stroke="#555555" stroke-width="1.15" fill="none"/>
<path d="M366.33,245.20L366.33,248.00 M366.33,6.35L366.33,3.55 M375.87,245.20L375.87,248.00 M375.87,6.35L375.87,3.55 M385.40,245.20L385.40,248.00 M385.40,6.35L385.40,3.55 M394.94,245.20L394.94,248.00 M394.94,6.35L394.94,3.55 M414.00,245.20L414.00,248.00 M414.00,6.35L414.00,3.55 M423.54,245.20L423.54,248.00 M423.54,6.35L423.54,3.55 M433.07,245.20L433.07,248.00 M433.07,6.35L433.07,3.55 M442.61,245.20L442.61,248.00 M442.61,6.35L442.61,3.55 M461.67,245.20L461.67,248.00 M461.67,6.35L461.67,3.55 M471.21,245.20L471.21,248.00 M471.21,6.35L471.21,3.55 M480.74,245.20L480.74,248.00 M480.74,6.35L480.74,3.55 M490.28,245.20L490.28,248.00 M490.28,6.35L490.28,3.55 M509.34,245.20L509.34,248.00 M509.34,6.35L509.34,3.55 M518.88,245.20L518.88,248.00 M518.88,6.35L518.88,3.55 M528.41,245.20L528.41,248.00 M528.41,6.35L528.41,3.55 M537.95,245.20L537.95,248.00 M537.95,6.35L537.95,3.55 M557.01,245.20L557.01,248.00 M557.01,6.35L557.01,3.55 M566.55,245.20L566.55,248.00 M566.55,6.35L566.55,3.55 M576.08,245.20L576.08,248.00 M576.08,6.35L576.08,3.55 M585.62,245.20L585.62,248.00 M585.62,6.35L585.62,3.55 M356.80,233.26L354.00,233.26 M595.15,233.26L597.95,233.26 M356.80,221.31L354.00,221.31 M595.15,221.31L597.95,221.31 M356.80,209.37L354.00,209.37 M595.15,209.37L597.95,209.37 M356.80,197.43L354.00,197.43 M595.15,197.43L597.95,197.43 M356.80,173.54L354.00,173.54 M595.15,173.54L597.95,173.54 M356.80,161.60L354.00,161.60 M595.15,161.60L597.95,161.60 M356.80,149.66L354.00,149.66 M595.15,149.66L597.95,149.66 M356.80,137.72L354.00,137.72 M595.15,137.72L597.95,137.72 M356.80,113.83L354.00,113.83 M595.15,113.83L597.95,113.83 M356.80,101.89L354.00,101.89 M595.15,101.89L597.95,101.89 M356.80,89.95L354.00,89.95 M595.15,89.95L597.95,89.95 M356.80,78.00L354.00,78.00 M595.15,78.00L597.95,78.00 M356.80,54.12L354.00,54.12 M595.15,54.12L597.95,54.12 M356.80,42.18L354.00,42.18 M595.15,42.18L597.95,42.18 M356.80,30.23L354.00,30.23 M595.15,30.23L597.95,30.23 M356.80,18.29L354.00,18.29 M595.15,18.29L597.95,18.29" stroke="#8a8a8a" stroke-width="1.0" fill="none"/>
<text x="343.4" y="249.10" font-size="11" text-anchor="end">0.0</text>
<text x="343.4" y="189.39" font-size="11" text-anchor="end">1.0</text>
<text x="343.4" y="129.67" font-size="11" text-anchor="end">2.0</text>
<text x="343.4" y="69.96" font-size="11" text-anchor="end">3.0</text>
<text x="343.4" y="10.85" font-size="11" text-anchor="end">4.0</text>
<text x="356.80" y="266.8" font-size="11" text-anchor="middle">1.0</text>
<text x="404.47" y="266.8" font-size="11" text-anchor="middle">2.0</text>
<text x="452.14" y="266.8" font-size="11" text-anchor="middle">3.0</text>
<text x="499.81" y="266.8" font-size="11" text-anchor="middle">4.0</text>
<text x="547.48" y="266.8" font-size="11" text-anchor="middle">5.0</text>
<text x="595.15" y="266.8" font-size="11" text-anchor="middle">6.0</text>
<text x="476" y="285.3" font-size="13.75" text-anchor="middle">U-Wind [m/s]</text>
<text transform="translate(317.5,125.7) rotate(-90)" font-size="13.75" text-anchor="middle">V-Wind [m/s]</text>
<text x="403.40" y="253.60" font-size="12.0" style="fill:#000;stroke:#000">0</text>
<text x="451.00" y="253.60" font-size="12.0" style="fill:#000;stroke:#000">0</text>
<text x="422.60" y="200.70" font-size="10.8" style="fill:#555;stroke:#555">1</text>
<text x="435.20" y="167.10" font-size="10.8" style="fill:#000;stroke:#000">2</text>
<text x="458.10" y="151.20" font-size="10.8" style="fill:#000;stroke:#000">3</text>
<path d="M550.6,188.7L550.60,185.50M550.6,188.7L553.64,187.71M550.6,188.7L552.48,191.29M550.6,188.7L548.72,191.29M550.6,188.7L547.56,187.71" stroke="#000" stroke-width="1.35" stroke-linecap="round" fill="none"/>
<text x="61" y="318.2" style="font-family:'Liberation Serif',serif;stroke-width:0.12px" font-size="15.7">(a) UWI evolution per LCZ</text>
<text x="376.3" y="318.2" style="font-family:'Liberation Serif',serif;stroke-width:0.12px" font-size="15.7">(b) Hodographs per LCZ</text>
</svg>
</body></html>
